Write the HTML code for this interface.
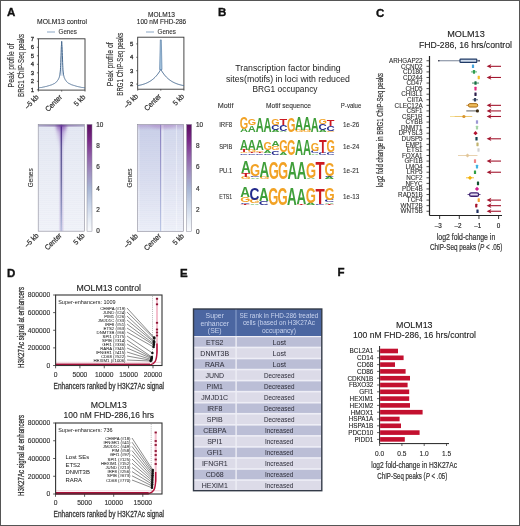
<!DOCTYPE html><html><head><meta charset="utf-8"><style>html,body{margin:0;padding:0;background:#fff;}svg{display:block;font-family:"Liberation Sans",sans-serif;will-change:transform;}</style></head><body>
<svg width="520" height="526" viewBox="0 0 520 526">
<defs>
<linearGradient id="cbar" x1="0" y1="0" x2="0" y2="1">
<stop offset="0" stop-color="#5a0d60"/><stop offset="0.15" stop-color="#7a2a88"/><stop offset="0.3" stop-color="#9060a8"/><stop offset="0.45" stop-color="#a090c0"/>
<stop offset="0.6" stop-color="#a8b6d4"/><stop offset="0.75" stop-color="#c8d4e8"/><stop offset="0.9" stop-color="#e8eef6"/><stop offset="1" stop-color="#fafbfd"/></linearGradient>
<linearGradient id="hm1bg" x1="0" y1="0" x2="0" y2="1">
<stop offset="0" stop-color="#e4e8f3"/><stop offset="0.5" stop-color="#ebeef6"/><stop offset="1" stop-color="#f1f3f9"/></linearGradient>
<linearGradient id="hm2bg" x1="0" y1="0" x2="0" y2="1">
<stop offset="0" stop-color="#c9cfe8"/><stop offset="0.5" stop-color="#d9ddef"/><stop offset="1" stop-color="#eceff8"/></linearGradient>
<linearGradient id="hm1c" x1="0" y1="0" x2="1" y2="0">
<stop offset="0" stop-color="#7a4fb0" stop-opacity="0"/><stop offset="0.5" stop-color="#6a3fa8" stop-opacity="1"/><stop offset="1" stop-color="#7a4fb0" stop-opacity="0"/></linearGradient>
<linearGradient id="hm1top" x1="0" y1="0" x2="0" y2="1">
<stop offset="0" stop-color="#8a4aa8" stop-opacity="0.9"/><stop offset="1" stop-color="#8a4aa8" stop-opacity="0"/></linearGradient>
<linearGradient id="hm1cl" x1="0" y1="0" x2="0" y2="1">
<stop offset="0" stop-color="#4e2088"/><stop offset="0.2" stop-color="#564e90"/><stop offset="0.5" stop-color="#68689c"/><stop offset="0.8" stop-color="#9096c2"/><stop offset="1" stop-color="#b8c2e0"/></linearGradient>
<linearGradient id="hm1cv" x1="0" y1="0" x2="0" y2="1">
<stop offset="0" stop-color="#fff" stop-opacity="1"/><stop offset="0.15" stop-color="#fff" stop-opacity="0.55"/><stop offset="1" stop-color="#fff" stop-opacity="0.25"/></linearGradient>
<linearGradient id="funnel" x1="0" y1="0" x2="0" y2="1">
<stop offset="0" stop-color="#7a3aa8" stop-opacity="0.85"/><stop offset="0.3" stop-color="#8a5ab8" stop-opacity="0.35"/><stop offset="1" stop-color="#9a80c8" stop-opacity="0"/></linearGradient>
<linearGradient id="toprow" x1="0" y1="0" x2="1" y2="0">
<stop offset="0" stop-color="#a8a4c4"/><stop offset="0.35" stop-color="#9a88b8"/><stop offset="0.5" stop-color="#6a3a98"/><stop offset="0.65" stop-color="#9a88b8"/><stop offset="1" stop-color="#a8a4c4"/></linearGradient>
<filter id="blur1" x="-50%" y="-50%" width="200%" height="200%"><feGaussianBlur stdDeviation="1.6"/></filter>
<clipPath id="hmclip1"><rect x="38.2" y="124.4" width="46.2" height="106.8"/></clipPath>
<clipPath id="hmclip2"><rect x="137.6" y="124.4" width="46" height="107.2"/></clipPath>
<linearGradient id="hm2cl" x1="0" y1="0" x2="0" y2="1">
<stop offset="0" stop-color="#8a80c0"/><stop offset="0.4" stop-color="#9c9ccc"/><stop offset="1" stop-color="#bcc8e6"/></linearGradient>
</defs>
<rect x="0.5" y="0.5" width="519" height="525" fill="none" stroke="#555" stroke-width="1"/>
<text x="7.00" y="16.30" font-size="11.5" fill="#111" stroke="#111" stroke-width="0.35" font-weight="bold">A</text>
<text x="218.00" y="16.20" font-size="11.5" fill="#111" stroke="#111" stroke-width="0.35" font-weight="bold">B</text>
<text x="376.00" y="16.60" font-size="11.5" fill="#111" stroke="#111" stroke-width="0.35" font-weight="bold">C</text>
<text x="7.00" y="276.60" font-size="11.5" fill="#111" stroke="#111" stroke-width="0.35" font-weight="bold">D</text>
<text x="180.00" y="276.80" font-size="11.5" fill="#111" stroke="#111" stroke-width="0.35" font-weight="bold">E</text>
<text x="337.50" y="276.30" font-size="11.5" fill="#111" stroke="#111" stroke-width="0.35" font-weight="bold">F</text>
<text x="62.00" y="24.10" font-size="6.9" fill="#222" stroke="#222" stroke-width="0.1" text-anchor="middle" textLength="50.00" lengthAdjust="spacingAndGlyphs">MOLM13 control</text>
<line x1="47" y1="32" x2="55" y2="32" stroke="#5a82ac" stroke-width="0.7"/>
<text x="58.50" y="34.20" font-size="6.3" fill="#333" stroke="#333" stroke-width="0.1" textLength="18.50" lengthAdjust="spacingAndGlyphs">Genes</text>
<rect x="38.4" y="38.8" width="46.6" height="51.3" fill="none" stroke="#333" stroke-width="0.9"/>
<line x1="36.9" y1="89.8" x2="38.4" y2="89.8" stroke="#333" stroke-width="0.7"/>
<text x="34.10" y="91.80" font-size="5.9" fill="#333" stroke="#333" stroke-width="0.3" text-anchor="end">1</text>
<line x1="36.9" y1="81.3" x2="38.4" y2="81.3" stroke="#333" stroke-width="0.7"/>
<text x="34.10" y="83.30" font-size="5.9" fill="#333" stroke="#333" stroke-width="0.3" text-anchor="end">2</text>
<line x1="36.9" y1="72.8" x2="38.4" y2="72.8" stroke="#333" stroke-width="0.7"/>
<text x="34.10" y="74.80" font-size="5.9" fill="#333" stroke="#333" stroke-width="0.3" text-anchor="end">3</text>
<line x1="36.9" y1="64.3" x2="38.4" y2="64.3" stroke="#333" stroke-width="0.7"/>
<text x="34.10" y="66.30" font-size="5.9" fill="#333" stroke="#333" stroke-width="0.3" text-anchor="end">4</text>
<line x1="36.9" y1="55.8" x2="38.4" y2="55.8" stroke="#333" stroke-width="0.7"/>
<text x="34.10" y="57.80" font-size="5.9" fill="#333" stroke="#333" stroke-width="0.3" text-anchor="end">5</text>
<line x1="36.9" y1="47.3" x2="38.4" y2="47.3" stroke="#333" stroke-width="0.7"/>
<text x="34.10" y="49.30" font-size="5.9" fill="#333" stroke="#333" stroke-width="0.3" text-anchor="end">6</text>
<line x1="36.9" y1="38.8" x2="38.4" y2="38.8" stroke="#333" stroke-width="0.7"/>
<text x="34.10" y="40.80" font-size="5.9" fill="#333" stroke="#333" stroke-width="0.3" text-anchor="end">7</text>
<line x1="38.4" y1="90.1" x2="38.4" y2="91.6" stroke="#333" stroke-width="0.7"/>
<line x1="61.7" y1="90.1" x2="61.7" y2="91.6" stroke="#333" stroke-width="0.7"/>
<line x1="85.0" y1="90.1" x2="85.0" y2="91.6" stroke="#333" stroke-width="0.7"/>
<path d="M59.60,75.76 L59.72,75.27 L59.84,74.77 L59.95,74.05 L60.07,73.06 L60.19,72.07 L60.30,71.08 L60.42,69.88 L60.53,67.57 L60.65,65.26 L60.77,62.37 L60.88,59.07 L61.00,55.77 L61.12,52.47 L61.23,49.17 L61.35,46.55 L61.47,44.82 L61.58,43.08 L61.70,41.35 L61.82,43.08 L61.93,44.82 L62.05,46.55 L62.17,49.17 L62.28,52.47 L62.40,55.77 L62.52,59.07 L62.63,62.37 L62.75,65.26 L62.86,67.57 L62.98,69.88 L63.10,71.08 L63.21,72.07 L63.33,73.06 L63.45,74.05 L63.56,74.77 L63.68,75.27 L63.80,75.76 Z" fill="#d6e1ee"/>
<path d="M38.40,87.84 L38.52,87.83 L38.63,87.81 L38.75,87.80 L38.87,87.78 L38.98,87.77 L39.10,87.75 L39.22,87.74 L39.33,87.72 L39.45,87.71 L39.56,87.69 L39.68,87.68 L39.80,87.66 L39.91,87.65 L40.03,87.63 L40.15,87.62 L40.26,87.60 L40.38,87.59 L40.50,87.57 L40.61,87.56 L40.73,87.54 L40.85,87.53 L40.96,87.51 L41.08,87.50 L41.20,87.48 L41.31,87.47 L41.43,87.45 L41.55,87.44 L41.66,87.42 L41.78,87.40 L41.89,87.38 L42.01,87.35 L42.13,87.33 L42.24,87.30 L42.36,87.28 L42.48,87.25 L42.59,87.23 L42.71,87.20 L42.83,87.18 L42.94,87.15 L43.06,87.12 L43.18,87.10 L43.29,87.07 L43.41,87.05 L43.53,87.02 L43.64,87.00 L43.76,86.97 L43.88,86.95 L43.99,86.92 L44.11,86.90 L44.23,86.87 L44.34,86.85 L44.46,86.82 L44.57,86.80 L44.69,86.77 L44.81,86.75 L44.92,86.72 L45.04,86.70 L45.16,86.67 L45.27,86.64 L45.39,86.62 L45.51,86.59 L45.62,86.57 L45.74,86.54 L45.86,86.52 L45.97,86.49 L46.09,86.47 L46.21,86.44 L46.32,86.42 L46.44,86.39 L46.55,86.35 L46.67,86.32 L46.79,86.28 L46.90,86.25 L47.02,86.21 L47.14,86.18 L47.25,86.14 L47.37,86.10 L47.49,86.07 L47.60,86.03 L47.72,86.00 L47.84,85.96 L47.95,85.93 L48.07,85.89 L48.19,85.86 L48.30,85.82 L48.42,85.78 L48.54,85.75 L48.65,85.71 L48.77,85.68 L48.88,85.64 L49.00,85.61 L49.12,85.57 L49.23,85.54 L49.35,85.50 L49.47,85.47 L49.58,85.43 L49.70,85.39 L49.82,85.36 L49.93,85.32 L50.05,85.29 L50.17,85.25 L50.28,85.22 L50.40,85.18 L50.52,85.15 L50.63,85.11 L50.75,85.07 L50.87,85.04 L50.98,85.00 L51.10,84.97 L51.21,84.93 L51.33,84.90 L51.45,84.86 L51.56,84.83 L51.68,84.79 L51.80,84.74 L51.91,84.68 L52.03,84.63 L52.15,84.57 L52.26,84.51 L52.38,84.46 L52.50,84.40 L52.61,84.35 L52.73,84.29 L52.85,84.23 L52.96,84.18 L53.08,84.12 L53.20,84.06 L53.31,84.01 L53.43,83.95 L53.55,83.90 L53.66,83.84 L53.78,83.78 L53.89,83.73 L54.01,83.67 L54.13,83.62 L54.24,83.56 L54.36,83.50 L54.48,83.45 L54.59,83.39 L54.71,83.33 L54.83,83.24 L54.94,83.14 L55.06,83.05 L55.18,82.96 L55.29,82.86 L55.41,82.77 L55.53,82.67 L55.64,82.58 L55.76,82.49 L55.88,82.39 L55.99,82.30 L56.11,82.20 L56.22,82.11 L56.34,82.01 L56.46,81.92 L56.57,81.83 L56.69,81.73 L56.81,81.57 L56.92,81.41 L57.04,81.24 L57.16,81.08 L57.27,80.91 L57.39,80.75 L57.51,80.58 L57.62,80.42 L57.74,80.25 L57.86,80.09 L57.97,79.92 L58.09,79.76 L58.20,79.59 L58.32,79.34 L58.44,79.09 L58.55,78.85 L58.67,78.60 L58.79,78.35 L58.90,78.10 L59.02,77.86 L59.14,77.61 L59.25,77.25 L59.37,76.75 L59.49,76.26 L59.60,75.76 L59.72,75.27 L59.84,74.77 L59.95,74.05 L60.07,73.06 L60.19,72.07 L60.30,71.08 L60.42,69.88 L60.53,67.57 L60.65,65.26 L60.77,62.37 L60.88,59.07 L61.00,55.77 L61.12,52.47 L61.23,49.17 L61.35,46.55 L61.47,44.82 L61.58,43.08 L61.70,41.35 L61.82,43.08 L61.93,44.82 L62.05,46.55 L62.17,49.17 L62.28,52.47 L62.40,55.77 L62.52,59.07 L62.63,62.37 L62.75,65.26 L62.86,67.57 L62.98,69.88 L63.10,71.08 L63.21,72.07 L63.33,73.06 L63.45,74.05 L63.56,74.77 L63.68,75.27 L63.80,75.76 L63.91,76.26 L64.03,76.75 L64.15,77.25 L64.26,77.61 L64.38,77.86 L64.50,78.10 L64.61,78.35 L64.73,78.60 L64.85,78.85 L64.96,79.09 L65.08,79.34 L65.19,79.59 L65.31,79.76 L65.43,79.92 L65.54,80.09 L65.66,80.25 L65.78,80.42 L65.89,80.58 L66.01,80.75 L66.13,80.91 L66.24,81.08 L66.36,81.24 L66.48,81.41 L66.59,81.57 L66.71,81.73 L66.83,81.83 L66.94,81.92 L67.06,82.01 L67.18,82.11 L67.29,82.20 L67.41,82.30 L67.53,82.39 L67.64,82.49 L67.76,82.58 L67.87,82.67 L67.99,82.77 L68.11,82.86 L68.22,82.96 L68.34,83.05 L68.46,83.14 L68.57,83.24 L68.69,83.33 L68.81,83.39 L68.92,83.45 L69.04,83.50 L69.16,83.56 L69.27,83.62 L69.39,83.67 L69.51,83.73 L69.62,83.78 L69.74,83.84 L69.85,83.90 L69.97,83.95 L70.09,84.01 L70.20,84.06 L70.32,84.12 L70.44,84.18 L70.55,84.23 L70.67,84.29 L70.79,84.35 L70.90,84.40 L71.02,84.46 L71.14,84.51 L71.25,84.57 L71.37,84.63 L71.49,84.68 L71.60,84.74 L71.72,84.79 L71.84,84.83 L71.95,84.86 L72.07,84.90 L72.19,84.93 L72.30,84.97 L72.42,85.00 L72.53,85.04 L72.65,85.07 L72.77,85.11 L72.88,85.15 L73.00,85.18 L73.12,85.22 L73.23,85.25 L73.35,85.29 L73.47,85.32 L73.58,85.36 L73.70,85.39 L73.82,85.43 L73.93,85.47 L74.05,85.50 L74.17,85.54 L74.28,85.57 L74.40,85.61 L74.52,85.64 L74.63,85.68 L74.75,85.71 L74.86,85.75 L74.98,85.78 L75.10,85.82 L75.21,85.86 L75.33,85.89 L75.45,85.93 L75.56,85.96 L75.68,86.00 L75.80,86.03 L75.91,86.07 L76.03,86.10 L76.15,86.14 L76.26,86.18 L76.38,86.21 L76.50,86.25 L76.61,86.28 L76.73,86.32 L76.84,86.35 L76.96,86.39 L77.08,86.42 L77.19,86.44 L77.31,86.47 L77.43,86.49 L77.54,86.52 L77.66,86.54 L77.78,86.57 L77.89,86.59 L78.01,86.62 L78.13,86.64 L78.24,86.67 L78.36,86.70 L78.48,86.72 L78.59,86.75 L78.71,86.77 L78.83,86.80 L78.94,86.82 L79.06,86.85 L79.17,86.87 L79.29,86.90 L79.41,86.92 L79.52,86.95 L79.64,86.97 L79.76,87.00 L79.87,87.02 L79.99,87.05 L80.11,87.07 L80.22,87.10 L80.34,87.12 L80.46,87.15 L80.57,87.18 L80.69,87.20 L80.81,87.23 L80.92,87.25 L81.04,87.28 L81.16,87.30 L81.27,87.33 L81.39,87.35 L81.50,87.38 L81.62,87.40 L81.74,87.42 L81.85,87.44 L81.97,87.45 L82.09,87.47 L82.20,87.48 L82.32,87.50 L82.44,87.51 L82.55,87.53 L82.67,87.54 L82.79,87.56 L82.90,87.57 L83.02,87.59 L83.14,87.60 L83.25,87.62 L83.37,87.63 L83.49,87.65 L83.60,87.66 L83.72,87.68 L83.84,87.69 L83.95,87.71 L84.07,87.72 L84.18,87.74 L84.30,87.75 L84.42,87.77 L84.53,87.78 L84.65,87.80 L84.77,87.81 L84.88,87.83 L85.00,87.84" fill="none" stroke="#45688e" stroke-width="1.0" stroke-linejoin="round"/>
<text x="14.10" y="65.45" font-size="9" fill="#333" stroke="#333" stroke-width="0.15" text-anchor="middle" textLength="44.00" lengthAdjust="spacingAndGlyphs" transform="rotate(-90 14.10 65.45)">Peak profile of</text>
<text x="24.30" y="65.45" font-size="9" fill="#333" stroke="#333" stroke-width="0.15" text-anchor="middle" textLength="63.00" lengthAdjust="spacingAndGlyphs" transform="rotate(-90 24.30 65.45)">BRG1 ChIP-Seq peaks</text>
<text x="39.30" y="97.70" font-size="7.4" fill="#333" stroke="#333" stroke-width="0.22" text-anchor="end" textLength="16.60" lengthAdjust="spacingAndGlyphs" transform="rotate(-45 39.30 97.70)">–5 kb</text>
<text x="62.60" y="97.70" font-size="7.4" fill="#333" stroke="#333" stroke-width="0.22" text-anchor="end" textLength="20.40" lengthAdjust="spacingAndGlyphs" transform="rotate(-45 62.60 97.70)">Center</text>
<text x="85.90" y="97.70" font-size="7.4" fill="#333" stroke="#333" stroke-width="0.22" text-anchor="end" textLength="12.85" lengthAdjust="spacingAndGlyphs" transform="rotate(-45 85.90 97.70)">5 kb</text>
<text x="161.50" y="16.50" font-size="6.9" fill="#222" stroke="#222" stroke-width="0.1" text-anchor="middle" textLength="27.00" lengthAdjust="spacingAndGlyphs">MOLM13</text>
<text x="161.50" y="24.10" font-size="6.9" fill="#222" stroke="#222" stroke-width="0.1" text-anchor="middle" textLength="49.30" lengthAdjust="spacingAndGlyphs">100 nM FHD-286</text>
<line x1="146" y1="32" x2="154" y2="32" stroke="#5a82ac" stroke-width="0.7"/>
<text x="157.50" y="34.20" font-size="6.3" fill="#333" stroke="#333" stroke-width="0.1" textLength="18.50" lengthAdjust="spacingAndGlyphs">Genes</text>
<rect x="137.7" y="37.2" width="46.20000000000002" height="52.0" fill="none" stroke="#333" stroke-width="0.9"/>
<line x1="136.2" y1="84.1" x2="137.7" y2="84.1" stroke="#333" stroke-width="0.7"/>
<text x="133.40" y="86.10" font-size="5.9" fill="#333" stroke="#333" stroke-width="0.3" text-anchor="end">2</text>
<line x1="136.2" y1="70.69999999999999" x2="137.7" y2="70.69999999999999" stroke="#333" stroke-width="0.7"/>
<text x="133.40" y="72.70" font-size="5.9" fill="#333" stroke="#333" stroke-width="0.3" text-anchor="end">3</text>
<line x1="136.2" y1="57.3" x2="137.7" y2="57.3" stroke="#333" stroke-width="0.7"/>
<text x="133.40" y="59.30" font-size="5.9" fill="#333" stroke="#333" stroke-width="0.3" text-anchor="end">4</text>
<line x1="136.2" y1="43.89999999999999" x2="137.7" y2="43.89999999999999" stroke="#333" stroke-width="0.7"/>
<text x="133.40" y="45.90" font-size="5.9" fill="#333" stroke="#333" stroke-width="0.3" text-anchor="end">5</text>
<line x1="137.7" y1="89.2" x2="137.7" y2="90.7" stroke="#333" stroke-width="0.7"/>
<line x1="160.8" y1="89.2" x2="160.8" y2="90.7" stroke="#333" stroke-width="0.7"/>
<line x1="183.9" y1="89.2" x2="183.9" y2="90.7" stroke="#333" stroke-width="0.7"/>
<path d="M137.70,85.64 L138.28,85.53 L138.85,85.42 L139.43,85.29 L140.01,85.17 L140.59,85.03 L141.16,84.89 L141.74,84.74 L142.32,84.58 L142.90,84.41 L143.47,84.23 L144.05,84.04 L144.63,83.83 L145.21,83.62 L145.78,83.39 L146.36,83.15 L146.94,82.90 L147.52,82.63 L148.09,82.34 L148.67,82.04 L149.25,81.72 L149.83,81.38 L150.41,81.02 L150.98,80.64 L151.56,80.24 L152.14,79.81 L152.72,79.36 L153.29,78.88 L153.87,78.38 L154.45,77.84 L155.03,77.27 L155.60,76.67 L156.18,76.03 L156.76,75.35 L157.34,74.64 L157.91,73.88 L158.49,73.08 L159.07,72.23 L159.64,71.33 L160.22,70.37 L160.80,69.36 L161.38,70.37 L161.95,71.33 L162.53,72.23 L163.11,73.08 L163.69,73.88 L164.26,74.64 L164.84,75.35 L165.42,76.03 L166.00,76.67 L166.57,77.27 L167.15,77.84 L167.73,78.38 L168.31,78.88 L168.88,79.36 L169.46,79.81 L170.04,80.24 L170.62,80.64 L171.19,81.02 L171.77,81.38 L172.35,81.72 L172.93,82.04 L173.50,82.34 L174.08,82.63 L174.66,82.90 L175.24,83.15 L175.81,83.39 L176.39,83.62 L176.97,83.83 L177.55,84.04 L178.12,84.23 L178.70,84.41 L179.28,84.58 L179.86,84.74 L180.44,84.89 L181.01,85.03 L181.59,85.17 L182.17,85.29 L182.75,85.42 L183.32,85.53 L183.90,85.64" fill="none" stroke="#45688e" stroke-width="1.0" stroke-linejoin="round"/>
<path d="M159.60,69.63 L160.30,39.88 L161.30,39.88 L162.00,69.63 Z" fill="#a8c6e0" stroke="#46709c" stroke-width="0.6"/>
<text x="113.10" y="64.20" font-size="9" fill="#333" stroke="#333" stroke-width="0.15" text-anchor="middle" textLength="44.00" lengthAdjust="spacingAndGlyphs" transform="rotate(-90 113.10 64.20)">Peak profile of</text>
<text x="123.30" y="64.20" font-size="9" fill="#333" stroke="#333" stroke-width="0.15" text-anchor="middle" textLength="63.00" lengthAdjust="spacingAndGlyphs" transform="rotate(-90 123.30 64.20)">BRG1 ChIP-Seq peaks</text>
<text x="138.60" y="96.80" font-size="7.4" fill="#333" stroke="#333" stroke-width="0.22" text-anchor="end" textLength="16.60" lengthAdjust="spacingAndGlyphs" transform="rotate(-45 138.60 96.80)">–5 kb</text>
<text x="161.70" y="96.80" font-size="7.4" fill="#333" stroke="#333" stroke-width="0.22" text-anchor="end" textLength="20.40" lengthAdjust="spacingAndGlyphs" transform="rotate(-45 161.70 96.80)">Center</text>
<text x="184.80" y="96.80" font-size="7.4" fill="#333" stroke="#333" stroke-width="0.22" text-anchor="end" textLength="12.85" lengthAdjust="spacingAndGlyphs" transform="rotate(-45 184.80 96.80)">5 kb</text>
<g clip-path="url(#hmclip1)">
<rect x="38.2" y="124.4" width="46.2" height="106.79999999999998" fill="url(#hm1bg)"/>
<line x1="38.2" y1="126.4" x2="84.4" y2="126.4" stroke="#c8cce6" stroke-width="0.5" opacity="0.10"/>
<line x1="38.2" y1="128.4" x2="84.4" y2="128.4" stroke="#c8cce6" stroke-width="0.5" opacity="0.13"/>
<line x1="38.2" y1="130.4" x2="84.4" y2="130.4" stroke="#c8cce6" stroke-width="0.5" opacity="0.16"/>
<line x1="38.2" y1="132.4" x2="84.4" y2="132.4" stroke="#c8cce6" stroke-width="0.5" opacity="0.12"/>
<line x1="38.2" y1="134.4" x2="84.4" y2="134.4" stroke="#c8cce6" stroke-width="0.5" opacity="0.15"/>
<line x1="38.2" y1="136.4" x2="84.4" y2="136.4" stroke="#c8cce6" stroke-width="0.5" opacity="0.10"/>
<line x1="38.2" y1="138.4" x2="84.4" y2="138.4" stroke="#c8cce6" stroke-width="0.5" opacity="0.13"/>
<line x1="38.2" y1="140.4" x2="84.4" y2="140.4" stroke="#c8cce6" stroke-width="0.5" opacity="0.16"/>
<line x1="38.2" y1="142.4" x2="84.4" y2="142.4" stroke="#c8cce6" stroke-width="0.5" opacity="0.12"/>
<line x1="38.2" y1="144.4" x2="84.4" y2="144.4" stroke="#c8cce6" stroke-width="0.5" opacity="0.15"/>
<line x1="38.2" y1="146.4" x2="84.4" y2="146.4" stroke="#c8cce6" stroke-width="0.5" opacity="0.10"/>
<line x1="38.2" y1="148.4" x2="84.4" y2="148.4" stroke="#c8cce6" stroke-width="0.5" opacity="0.13"/>
<line x1="38.2" y1="150.4" x2="84.4" y2="150.4" stroke="#c8cce6" stroke-width="0.5" opacity="0.16"/>
<line x1="38.2" y1="152.4" x2="84.4" y2="152.4" stroke="#c8cce6" stroke-width="0.5" opacity="0.12"/>
<line x1="38.2" y1="154.4" x2="84.4" y2="154.4" stroke="#c8cce6" stroke-width="0.5" opacity="0.15"/>
<line x1="38.2" y1="156.4" x2="84.4" y2="156.4" stroke="#c8cce6" stroke-width="0.5" opacity="0.10"/>
<line x1="38.2" y1="158.4" x2="84.4" y2="158.4" stroke="#c8cce6" stroke-width="0.5" opacity="0.13"/>
<line x1="38.2" y1="160.4" x2="84.4" y2="160.4" stroke="#c8cce6" stroke-width="0.5" opacity="0.16"/>
<line x1="38.2" y1="162.4" x2="84.4" y2="162.4" stroke="#c8cce6" stroke-width="0.5" opacity="0.12"/>
<line x1="38.2" y1="164.4" x2="84.4" y2="164.4" stroke="#c8cce6" stroke-width="0.5" opacity="0.15"/>
<line x1="38.2" y1="166.4" x2="84.4" y2="166.4" stroke="#c8cce6" stroke-width="0.5" opacity="0.10"/>
<line x1="38.2" y1="168.4" x2="84.4" y2="168.4" stroke="#c8cce6" stroke-width="0.5" opacity="0.13"/>
<line x1="38.2" y1="170.4" x2="84.4" y2="170.4" stroke="#c8cce6" stroke-width="0.5" opacity="0.16"/>
<line x1="38.2" y1="172.4" x2="84.4" y2="172.4" stroke="#c8cce6" stroke-width="0.5" opacity="0.12"/>
<line x1="38.2" y1="174.4" x2="84.4" y2="174.4" stroke="#c8cce6" stroke-width="0.5" opacity="0.15"/>
<line x1="38.2" y1="176.4" x2="84.4" y2="176.4" stroke="#c8cce6" stroke-width="0.5" opacity="0.10"/>
<line x1="38.2" y1="178.4" x2="84.4" y2="178.4" stroke="#c8cce6" stroke-width="0.5" opacity="0.13"/>
<line x1="38.2" y1="180.4" x2="84.4" y2="180.4" stroke="#c8cce6" stroke-width="0.5" opacity="0.16"/>
<line x1="38.2" y1="182.4" x2="84.4" y2="182.4" stroke="#c8cce6" stroke-width="0.5" opacity="0.12"/>
<line x1="38.2" y1="184.4" x2="84.4" y2="184.4" stroke="#c8cce6" stroke-width="0.5" opacity="0.15"/>
<line x1="38.2" y1="186.4" x2="84.4" y2="186.4" stroke="#c8cce6" stroke-width="0.5" opacity="0.10"/>
<line x1="38.2" y1="188.4" x2="84.4" y2="188.4" stroke="#c8cce6" stroke-width="0.5" opacity="0.13"/>
<line x1="38.2" y1="190.4" x2="84.4" y2="190.4" stroke="#c8cce6" stroke-width="0.5" opacity="0.16"/>
<line x1="38.2" y1="192.4" x2="84.4" y2="192.4" stroke="#c8cce6" stroke-width="0.5" opacity="0.12"/>
<line x1="38.2" y1="194.4" x2="84.4" y2="194.4" stroke="#c8cce6" stroke-width="0.5" opacity="0.15"/>
<line x1="38.2" y1="196.4" x2="84.4" y2="196.4" stroke="#c8cce6" stroke-width="0.5" opacity="0.10"/>
<line x1="38.2" y1="198.4" x2="84.4" y2="198.4" stroke="#c8cce6" stroke-width="0.5" opacity="0.13"/>
<line x1="38.2" y1="200.4" x2="84.4" y2="200.4" stroke="#c8cce6" stroke-width="0.5" opacity="0.16"/>
<line x1="38.2" y1="202.4" x2="84.4" y2="202.4" stroke="#c8cce6" stroke-width="0.5" opacity="0.12"/>
<line x1="38.2" y1="204.4" x2="84.4" y2="204.4" stroke="#c8cce6" stroke-width="0.5" opacity="0.15"/>
<line x1="38.2" y1="206.4" x2="84.4" y2="206.4" stroke="#c8cce6" stroke-width="0.5" opacity="0.10"/>
<line x1="38.2" y1="208.4" x2="84.4" y2="208.4" stroke="#c8cce6" stroke-width="0.5" opacity="0.13"/>
<line x1="38.2" y1="210.4" x2="84.4" y2="210.4" stroke="#c8cce6" stroke-width="0.5" opacity="0.16"/>
<line x1="38.2" y1="212.4" x2="84.4" y2="212.4" stroke="#c8cce6" stroke-width="0.5" opacity="0.12"/>
<line x1="38.2" y1="214.4" x2="84.4" y2="214.4" stroke="#c8cce6" stroke-width="0.5" opacity="0.15"/>
<line x1="38.2" y1="216.4" x2="84.4" y2="216.4" stroke="#c8cce6" stroke-width="0.5" opacity="0.10"/>
<line x1="38.2" y1="218.4" x2="84.4" y2="218.4" stroke="#c8cce6" stroke-width="0.5" opacity="0.13"/>
<line x1="38.2" y1="220.4" x2="84.4" y2="220.4" stroke="#c8cce6" stroke-width="0.5" opacity="0.16"/>
<line x1="38.2" y1="222.4" x2="84.4" y2="222.4" stroke="#c8cce6" stroke-width="0.5" opacity="0.12"/>
<line x1="38.2" y1="224.4" x2="84.4" y2="224.4" stroke="#c8cce6" stroke-width="0.5" opacity="0.15"/>
<line x1="38.2" y1="226.4" x2="84.4" y2="226.4" stroke="#c8cce6" stroke-width="0.5" opacity="0.10"/>
<line x1="38.2" y1="228.4" x2="84.4" y2="228.4" stroke="#c8cce6" stroke-width="0.5" opacity="0.13"/>
<line x1="38.2" y1="230.4" x2="84.4" y2="230.4" stroke="#c8cce6" stroke-width="0.5" opacity="0.16"/>
<path d="M55.800000000000004,124.4 L66.80000000000001,124.4 L62.300000000000004,152.4 L60.300000000000004,152.4 Z" fill="url(#funnel)" filter="url(#blur1)"/>
<rect x="58.300000000000004" y="124.4" width="6.0" height="106.79999999999998" fill="url(#hm1c)" opacity="0.3"/>
<rect x="60.650000000000006" y="124.4" width="1.3" height="106.79999999999998" fill="url(#hm1cl)"/>
<rect x="38.2" y="124.4" width="46.2" height="2.2" fill="url(#toprow)"/>
</g>
<rect x="38.2" y="124.4" width="46.2" height="106.79999999999998" fill="none" stroke="#8a8a9a" stroke-width="0.6"/>
<rect x="87" y="124.4" width="5" height="106.79999999999998" fill="url(#cbar)" stroke="#8a8a9a" stroke-width="0.5"/>
<text x="96.30" y="126.60" font-size="6.4" fill="#333" stroke="#333" stroke-width="0.2">10</text>
<text x="96.30" y="147.96" font-size="6.4" fill="#333" stroke="#333" stroke-width="0.2">8</text>
<text x="96.30" y="169.32" font-size="6.4" fill="#333" stroke="#333" stroke-width="0.2">6</text>
<text x="96.30" y="190.68" font-size="6.4" fill="#333" stroke="#333" stroke-width="0.2">4</text>
<text x="96.30" y="212.04" font-size="6.4" fill="#333" stroke="#333" stroke-width="0.2">2</text>
<text x="96.30" y="233.40" font-size="6.4" fill="#333" stroke="#333" stroke-width="0.2">0</text>
<text x="32.60" y="177.80" font-size="6.4" fill="#333" stroke="#333" stroke-width="0.1" text-anchor="middle" transform="rotate(-90 32.60 177.80)">Genes</text>
<text x="39.10" y="236.10" font-size="7.4" fill="#333" stroke="#333" stroke-width="0.22" text-anchor="end" textLength="16.60" lengthAdjust="spacingAndGlyphs" transform="rotate(-45 39.10 236.10)">–5 kb</text>
<text x="62.20" y="236.10" font-size="7.4" fill="#333" stroke="#333" stroke-width="0.22" text-anchor="end" textLength="20.40" lengthAdjust="spacingAndGlyphs" transform="rotate(-45 62.20 236.10)">Center</text>
<text x="85.30" y="236.10" font-size="7.4" fill="#333" stroke="#333" stroke-width="0.22" text-anchor="end" textLength="12.85" lengthAdjust="spacingAndGlyphs" transform="rotate(-45 85.30 236.10)">5 kb</text>
<g clip-path="url(#hmclip2)">
<rect x="137.6" y="124.4" width="46.0" height="107.19999999999999" fill="url(#hm2bg)"/>
<rect x="160.6" y="124.4" width="23.0" height="107.19999999999999" fill="#ffffff" opacity="0.18"/>
<rect x="137.6" y="124.4" width="2" height="107.19999999999999" fill="#ffffff" opacity="0.3"/>
<line x1="137.6" y1="126.4" x2="183.6" y2="126.4" stroke="#b8bedc" stroke-width="0.5" opacity="0.08"/>
<line x1="137.6" y1="128.4" x2="183.6" y2="128.4" stroke="#b8bedc" stroke-width="0.5" opacity="0.11"/>
<line x1="137.6" y1="130.4" x2="183.6" y2="130.4" stroke="#b8bedc" stroke-width="0.5" opacity="0.14"/>
<line x1="137.6" y1="132.4" x2="183.6" y2="132.4" stroke="#b8bedc" stroke-width="0.5" opacity="0.10"/>
<line x1="137.6" y1="134.4" x2="183.6" y2="134.4" stroke="#b8bedc" stroke-width="0.5" opacity="0.12"/>
<line x1="137.6" y1="136.4" x2="183.6" y2="136.4" stroke="#b8bedc" stroke-width="0.5" opacity="0.08"/>
<line x1="137.6" y1="138.4" x2="183.6" y2="138.4" stroke="#b8bedc" stroke-width="0.5" opacity="0.11"/>
<line x1="137.6" y1="140.4" x2="183.6" y2="140.4" stroke="#b8bedc" stroke-width="0.5" opacity="0.14"/>
<line x1="137.6" y1="142.4" x2="183.6" y2="142.4" stroke="#b8bedc" stroke-width="0.5" opacity="0.10"/>
<line x1="137.6" y1="144.4" x2="183.6" y2="144.4" stroke="#b8bedc" stroke-width="0.5" opacity="0.12"/>
<line x1="137.6" y1="146.4" x2="183.6" y2="146.4" stroke="#b8bedc" stroke-width="0.5" opacity="0.08"/>
<line x1="137.6" y1="148.4" x2="183.6" y2="148.4" stroke="#b8bedc" stroke-width="0.5" opacity="0.11"/>
<line x1="137.6" y1="150.4" x2="183.6" y2="150.4" stroke="#b8bedc" stroke-width="0.5" opacity="0.14"/>
<line x1="137.6" y1="152.4" x2="183.6" y2="152.4" stroke="#b8bedc" stroke-width="0.5" opacity="0.10"/>
<line x1="137.6" y1="154.4" x2="183.6" y2="154.4" stroke="#b8bedc" stroke-width="0.5" opacity="0.12"/>
<line x1="137.6" y1="156.4" x2="183.6" y2="156.4" stroke="#b8bedc" stroke-width="0.5" opacity="0.08"/>
<line x1="137.6" y1="158.4" x2="183.6" y2="158.4" stroke="#b8bedc" stroke-width="0.5" opacity="0.11"/>
<line x1="137.6" y1="160.4" x2="183.6" y2="160.4" stroke="#b8bedc" stroke-width="0.5" opacity="0.14"/>
<line x1="137.6" y1="162.4" x2="183.6" y2="162.4" stroke="#b8bedc" stroke-width="0.5" opacity="0.10"/>
<line x1="137.6" y1="164.4" x2="183.6" y2="164.4" stroke="#b8bedc" stroke-width="0.5" opacity="0.12"/>
<line x1="137.6" y1="166.4" x2="183.6" y2="166.4" stroke="#b8bedc" stroke-width="0.5" opacity="0.08"/>
<line x1="137.6" y1="168.4" x2="183.6" y2="168.4" stroke="#b8bedc" stroke-width="0.5" opacity="0.11"/>
<line x1="137.6" y1="170.4" x2="183.6" y2="170.4" stroke="#b8bedc" stroke-width="0.5" opacity="0.14"/>
<line x1="137.6" y1="172.4" x2="183.6" y2="172.4" stroke="#b8bedc" stroke-width="0.5" opacity="0.10"/>
<line x1="137.6" y1="174.4" x2="183.6" y2="174.4" stroke="#b8bedc" stroke-width="0.5" opacity="0.12"/>
<line x1="137.6" y1="176.4" x2="183.6" y2="176.4" stroke="#b8bedc" stroke-width="0.5" opacity="0.08"/>
<line x1="137.6" y1="178.4" x2="183.6" y2="178.4" stroke="#b8bedc" stroke-width="0.5" opacity="0.11"/>
<line x1="137.6" y1="180.4" x2="183.6" y2="180.4" stroke="#b8bedc" stroke-width="0.5" opacity="0.14"/>
<line x1="137.6" y1="182.4" x2="183.6" y2="182.4" stroke="#b8bedc" stroke-width="0.5" opacity="0.10"/>
<line x1="137.6" y1="184.4" x2="183.6" y2="184.4" stroke="#b8bedc" stroke-width="0.5" opacity="0.12"/>
<line x1="137.6" y1="186.4" x2="183.6" y2="186.4" stroke="#b8bedc" stroke-width="0.5" opacity="0.08"/>
<line x1="137.6" y1="188.4" x2="183.6" y2="188.4" stroke="#b8bedc" stroke-width="0.5" opacity="0.11"/>
<line x1="137.6" y1="190.4" x2="183.6" y2="190.4" stroke="#b8bedc" stroke-width="0.5" opacity="0.14"/>
<line x1="137.6" y1="192.4" x2="183.6" y2="192.4" stroke="#b8bedc" stroke-width="0.5" opacity="0.10"/>
<line x1="137.6" y1="194.4" x2="183.6" y2="194.4" stroke="#b8bedc" stroke-width="0.5" opacity="0.12"/>
<line x1="137.6" y1="196.4" x2="183.6" y2="196.4" stroke="#b8bedc" stroke-width="0.5" opacity="0.08"/>
<line x1="137.6" y1="198.4" x2="183.6" y2="198.4" stroke="#b8bedc" stroke-width="0.5" opacity="0.11"/>
<line x1="137.6" y1="200.4" x2="183.6" y2="200.4" stroke="#b8bedc" stroke-width="0.5" opacity="0.14"/>
<line x1="137.6" y1="202.4" x2="183.6" y2="202.4" stroke="#b8bedc" stroke-width="0.5" opacity="0.10"/>
<line x1="137.6" y1="204.4" x2="183.6" y2="204.4" stroke="#b8bedc" stroke-width="0.5" opacity="0.12"/>
<line x1="137.6" y1="206.4" x2="183.6" y2="206.4" stroke="#b8bedc" stroke-width="0.5" opacity="0.08"/>
<line x1="137.6" y1="208.4" x2="183.6" y2="208.4" stroke="#b8bedc" stroke-width="0.5" opacity="0.11"/>
<line x1="137.6" y1="210.4" x2="183.6" y2="210.4" stroke="#b8bedc" stroke-width="0.5" opacity="0.14"/>
<line x1="137.6" y1="212.4" x2="183.6" y2="212.4" stroke="#b8bedc" stroke-width="0.5" opacity="0.10"/>
<line x1="137.6" y1="214.4" x2="183.6" y2="214.4" stroke="#b8bedc" stroke-width="0.5" opacity="0.12"/>
<line x1="137.6" y1="216.4" x2="183.6" y2="216.4" stroke="#b8bedc" stroke-width="0.5" opacity="0.08"/>
<line x1="137.6" y1="218.4" x2="183.6" y2="218.4" stroke="#b8bedc" stroke-width="0.5" opacity="0.11"/>
<line x1="137.6" y1="220.4" x2="183.6" y2="220.4" stroke="#b8bedc" stroke-width="0.5" opacity="0.14"/>
<line x1="137.6" y1="222.4" x2="183.6" y2="222.4" stroke="#b8bedc" stroke-width="0.5" opacity="0.10"/>
<line x1="137.6" y1="224.4" x2="183.6" y2="224.4" stroke="#b8bedc" stroke-width="0.5" opacity="0.12"/>
<line x1="137.6" y1="226.4" x2="183.6" y2="226.4" stroke="#b8bedc" stroke-width="0.5" opacity="0.08"/>
<line x1="137.6" y1="228.4" x2="183.6" y2="228.4" stroke="#b8bedc" stroke-width="0.5" opacity="0.11"/>
<line x1="137.6" y1="230.4" x2="183.6" y2="230.4" stroke="#b8bedc" stroke-width="0.5" opacity="0.14"/>
<rect x="137.6" y="124.4" width="46.0" height="6" fill="url(#hm1top)" opacity="0.35"/>
<rect x="161.0" y="124.4" width="2.6" height="107.19999999999999" fill="#ffffff" opacity="0.35"/>
<rect x="160.0" y="124.4" width="1.2" height="107.19999999999999" fill="url(#hm2cl)"/>
<ellipse cx="162.6" cy="124.4" rx="12" ry="4" fill="#b088c8" opacity="0.35" filter="url(#blur1)"/>
<line x1="176.6" y1="124.4" x2="176.6" y2="231.6" stroke="#ffffff" stroke-width="0.7" opacity="0.6"/>
</g>
<rect x="137.6" y="124.4" width="46.0" height="107.19999999999999" fill="none" stroke="#8a8a9a" stroke-width="0.6"/>
<rect x="186.6" y="124.4" width="5" height="107.19999999999999" fill="url(#cbar)" stroke="#8a8a9a" stroke-width="0.5"/>
<text x="195.90" y="126.60" font-size="6.4" fill="#333" stroke="#333" stroke-width="0.2">10</text>
<text x="195.90" y="148.04" font-size="6.4" fill="#333" stroke="#333" stroke-width="0.2">8</text>
<text x="195.90" y="169.48" font-size="6.4" fill="#333" stroke="#333" stroke-width="0.2">6</text>
<text x="195.90" y="190.92" font-size="6.4" fill="#333" stroke="#333" stroke-width="0.2">4</text>
<text x="195.90" y="212.36" font-size="6.4" fill="#333" stroke="#333" stroke-width="0.2">2</text>
<text x="195.90" y="233.80" font-size="6.4" fill="#333" stroke="#333" stroke-width="0.2">0</text>
<text x="132.00" y="178.00" font-size="6.4" fill="#333" stroke="#333" stroke-width="0.1" text-anchor="middle" transform="rotate(-90 132.00 178.00)">Genes</text>
<text x="138.50" y="236.50" font-size="7.4" fill="#333" stroke="#333" stroke-width="0.22" text-anchor="end" textLength="16.60" lengthAdjust="spacingAndGlyphs" transform="rotate(-45 138.50 236.50)">–5 kb</text>
<text x="161.50" y="236.50" font-size="7.4" fill="#333" stroke="#333" stroke-width="0.22" text-anchor="end" textLength="20.40" lengthAdjust="spacingAndGlyphs" transform="rotate(-45 161.50 236.50)">Center</text>
<text x="184.50" y="236.50" font-size="7.4" fill="#333" stroke="#333" stroke-width="0.22" text-anchor="end" textLength="12.85" lengthAdjust="spacingAndGlyphs" transform="rotate(-45 184.50 236.50)">5 kb</text>
<text x="288.00" y="71.00" font-size="8.6" fill="#222" text-anchor="middle" textLength="105.50" lengthAdjust="spacingAndGlyphs">Transcription factor binding</text>
<text x="288.00" y="81.50" font-size="8.6" fill="#222" text-anchor="middle" textLength="124.00" lengthAdjust="spacingAndGlyphs">sites(motifs) in loci with reduced</text>
<text x="285.00" y="91.50" font-size="8.6" fill="#222" text-anchor="middle" textLength="65.00" lengthAdjust="spacingAndGlyphs">BRG1 occupancy</text>
<text x="217.80" y="108.20" font-size="6.3" fill="#333" stroke="#333" stroke-width="0.1" textLength="15.60" lengthAdjust="spacingAndGlyphs">Motif</text>
<text x="288.50" y="108.20" font-size="6.3" fill="#333" stroke="#333" stroke-width="0.1" text-anchor="middle" textLength="45.00" lengthAdjust="spacingAndGlyphs">Motif sequence</text>
<text x="351.10" y="108.20" font-size="6.3" fill="#333" stroke="#333" stroke-width="0.1" text-anchor="middle" textLength="20.50" lengthAdjust="spacingAndGlyphs">P-value</text>
<text x="219.20" y="127.00" font-size="6.5" fill="#333" stroke="#333" stroke-width="0.1" textLength="13.00" lengthAdjust="spacingAndGlyphs">IRF8</text>
<text x="351.20" y="127.00" font-size="6.5" fill="#333" stroke="#333" stroke-width="0.1" text-anchor="middle" textLength="16.30" lengthAdjust="spacingAndGlyphs">1e-26</text>
<text x="219.20" y="148.70" font-size="6.5" fill="#333" stroke="#333" stroke-width="0.1" textLength="13.00" lengthAdjust="spacingAndGlyphs">SPIB</text>
<text x="351.20" y="148.70" font-size="6.5" fill="#333" stroke="#333" stroke-width="0.1" text-anchor="middle" textLength="16.30" lengthAdjust="spacingAndGlyphs">1e-24</text>
<text x="219.20" y="173.00" font-size="6.5" fill="#333" stroke="#333" stroke-width="0.1" textLength="13.00" lengthAdjust="spacingAndGlyphs">PU.1</text>
<text x="351.20" y="173.00" font-size="6.5" fill="#333" stroke="#333" stroke-width="0.1" text-anchor="middle" textLength="16.30" lengthAdjust="spacingAndGlyphs">1e-21</text>
<text x="219.20" y="198.90" font-size="6.5" fill="#333" stroke="#333" stroke-width="0.1" textLength="13.00" lengthAdjust="spacingAndGlyphs">ETS1</text>
<text x="351.20" y="198.90" font-size="6.5" fill="#333" stroke="#333" stroke-width="0.1" text-anchor="middle" textLength="16.30" lengthAdjust="spacingAndGlyphs">1e-13</text>
<text transform="translate(239.96,132.00) scale(0.1119,0.0486)" font-size="100" font-weight="bold" fill="#3f9f3a">A</text>
<text transform="translate(239.87,128.60) scale(0.1086,0.1571)" font-size="100" font-weight="bold" fill="#f2a225">G</text>
<text transform="translate(247.84,132.00) scale(0.1119,0.0971)" font-size="100" font-weight="bold" fill="#3f9f3a">A</text>
<text transform="translate(247.74,125.20) scale(0.1086,0.0886)" font-size="100" font-weight="bold" fill="#f2a225">G</text>
<text transform="translate(255.71,132.00) scale(0.1119,0.2000)" font-size="100" font-weight="bold" fill="#3f9f3a">A</text>
<text transform="translate(263.59,132.00) scale(0.1119,0.2000)" font-size="100" font-weight="bold" fill="#3f9f3a">A</text>
<text transform="translate(271.46,132.00) scale(0.1119,0.0257)" font-size="100" font-weight="bold" fill="#3f9f3a">A</text>
<text transform="translate(271.35,130.20) scale(0.1137,0.0686)" font-size="100" font-weight="bold" fill="#232a8c">C</text>
<text transform="translate(271.37,125.40) scale(0.1086,0.0886)" font-size="100" font-weight="bold" fill="#f2a225">G</text>
<text transform="translate(279.34,132.00) scale(0.1119,0.0171)" font-size="100" font-weight="bold" fill="#3f9f3a">A</text>
<text transform="translate(279.22,130.80) scale(0.1137,0.0900)" font-size="100" font-weight="bold" fill="#232a8c">C</text>
<text transform="translate(279.55,124.50) scale(0.1254,0.0886)" font-size="100" font-weight="bold" fill="#cc1a22">T</text>
<text transform="translate(287.12,132.00) scale(0.1086,0.2114)" font-size="100" font-weight="bold" fill="#f2a225">G</text>
<text transform="translate(294.99,132.00) scale(0.1086,0.0257)" font-size="100" font-weight="bold" fill="#f2a225">G</text>
<text transform="translate(295.09,130.20) scale(0.1119,0.1786)" font-size="100" font-weight="bold" fill="#3f9f3a">A</text>
<text transform="translate(302.87,132.00) scale(0.1086,0.0257)" font-size="100" font-weight="bold" fill="#f2a225">G</text>
<text transform="translate(302.96,130.20) scale(0.1119,0.1786)" font-size="100" font-weight="bold" fill="#3f9f3a">A</text>
<text transform="translate(310.84,132.00) scale(0.1119,0.2071)" font-size="100" font-weight="bold" fill="#3f9f3a">A</text>
<text transform="translate(318.71,132.00) scale(0.1119,0.0257)" font-size="100" font-weight="bold" fill="#3f9f3a">A</text>
<text transform="translate(318.60,130.20) scale(0.1137,0.0829)" font-size="100" font-weight="bold" fill="#232a8c">C</text>
<text transform="translate(318.62,124.40) scale(0.1086,0.0757)" font-size="100" font-weight="bold" fill="#f2a225">G</text>
<text transform="translate(326.49,132.00) scale(0.1086,0.0214)" font-size="100" font-weight="bold" fill="#f2a225">G</text>
<text transform="translate(326.47,130.50) scale(0.1137,0.0686)" font-size="100" font-weight="bold" fill="#232a8c">C</text>
<text transform="translate(326.80,125.70) scale(0.1254,0.0957)" font-size="100" font-weight="bold" fill="#cc1a22">T</text>
<text transform="translate(239.85,154.50) scale(0.1137,0.0171)" font-size="100" font-weight="bold" fill="#232a8c">C</text>
<text transform="translate(239.87,153.30) scale(0.1086,0.0214)" font-size="100" font-weight="bold" fill="#f2a225">G</text>
<text transform="translate(240.17,151.80) scale(0.1254,0.0271)" font-size="100" font-weight="bold" fill="#cc1a22">T</text>
<text transform="translate(239.96,149.90) scale(0.1119,0.1429)" font-size="100" font-weight="bold" fill="#3f9f3a">A</text>
<text transform="translate(247.72,154.50) scale(0.1137,0.0171)" font-size="100" font-weight="bold" fill="#232a8c">C</text>
<text transform="translate(248.05,153.30) scale(0.1254,0.0214)" font-size="100" font-weight="bold" fill="#cc1a22">T</text>
<text transform="translate(247.74,151.80) scale(0.1086,0.0271)" font-size="100" font-weight="bold" fill="#f2a225">G</text>
<text transform="translate(247.84,149.90) scale(0.1119,0.1429)" font-size="100" font-weight="bold" fill="#3f9f3a">A</text>
<text transform="translate(255.60,154.50) scale(0.1137,0.0171)" font-size="100" font-weight="bold" fill="#232a8c">C</text>
<text transform="translate(255.92,153.30) scale(0.1254,0.0229)" font-size="100" font-weight="bold" fill="#cc1a22">T</text>
<text transform="translate(255.62,151.70) scale(0.1086,0.0214)" font-size="100" font-weight="bold" fill="#f2a225">G</text>
<text transform="translate(255.71,150.20) scale(0.1119,0.1429)" font-size="100" font-weight="bold" fill="#3f9f3a">A</text>
<text transform="translate(263.47,154.50) scale(0.1137,0.0171)" font-size="100" font-weight="bold" fill="#232a8c">C</text>
<text transform="translate(263.59,153.30) scale(0.1119,0.0414)" font-size="100" font-weight="bold" fill="#3f9f3a">A</text>
<text transform="translate(263.49,150.40) scale(0.1086,0.1029)" font-size="100" font-weight="bold" fill="#f2a225">G</text>
<text transform="translate(271.35,154.50) scale(0.1137,0.0614)" font-size="100" font-weight="bold" fill="#232a8c">C</text>
<text transform="translate(271.37,150.20) scale(0.1086,0.0557)" font-size="100" font-weight="bold" fill="#f2a225">G</text>
<text transform="translate(271.46,146.30) scale(0.1119,0.0686)" font-size="100" font-weight="bold" fill="#3f9f3a">A</text>
<text transform="translate(279.34,154.50) scale(0.1119,0.0429)" font-size="100" font-weight="bold" fill="#3f9f3a">A</text>
<text transform="translate(279.24,151.50) scale(0.1086,0.1571)" font-size="100" font-weight="bold" fill="#f2a225">G</text>
<text transform="translate(287.12,154.50) scale(0.1086,0.2200)" font-size="100" font-weight="bold" fill="#f2a225">G</text>
<text transform="translate(295.09,154.50) scale(0.1119,0.2143)" font-size="100" font-weight="bold" fill="#3f9f3a">A</text>
<text transform="translate(302.96,154.50) scale(0.1119,0.2143)" font-size="100" font-weight="bold" fill="#3f9f3a">A</text>
<text transform="translate(310.84,154.50) scale(0.1119,0.0229)" font-size="100" font-weight="bold" fill="#3f9f3a">A</text>
<text transform="translate(310.72,152.90) scale(0.1137,0.0343)" font-size="100" font-weight="bold" fill="#232a8c">C</text>
<text transform="translate(310.74,150.50) scale(0.1086,0.1171)" font-size="100" font-weight="bold" fill="#f2a225">G</text>
<text transform="translate(318.60,154.50) scale(0.1137,0.0286)" font-size="100" font-weight="bold" fill="#232a8c">C</text>
<text transform="translate(318.92,152.50) scale(0.1254,0.1786)" font-size="100" font-weight="bold" fill="#cc1a22">T</text>
<text transform="translate(326.47,154.50) scale(0.1137,0.0429)" font-size="100" font-weight="bold" fill="#232a8c">C</text>
<text transform="translate(326.49,151.50) scale(0.1086,0.1571)" font-size="100" font-weight="bold" fill="#f2a225">G</text>
<text transform="translate(240.78,179.00) scale(0.1299,0.0257)" font-size="100" font-weight="bold" fill="#f2a225">G</text>
<text transform="translate(241.15,177.20) scale(0.1500,0.0557)" font-size="100" font-weight="bold" fill="#cc1a22">T</text>
<text transform="translate(240.90,173.30) scale(0.1338,0.1643)" font-size="100" font-weight="bold" fill="#3f9f3a">A</text>
<text transform="translate(250.20,179.00) scale(0.1338,0.0229)" font-size="100" font-weight="bold" fill="#3f9f3a">A</text>
<text transform="translate(250.06,177.40) scale(0.1359,0.0200)" font-size="100" font-weight="bold" fill="#232a8c">C</text>
<text transform="translate(250.08,176.00) scale(0.1299,0.1686)" font-size="100" font-weight="bold" fill="#f2a225">G</text>
<text transform="translate(259.38,179.00) scale(0.1299,0.0257)" font-size="100" font-weight="bold" fill="#f2a225">G</text>
<text transform="translate(259.50,177.20) scale(0.1338,0.2200)" font-size="100" font-weight="bold" fill="#3f9f3a">A</text>
<text transform="translate(268.68,179.00) scale(0.1299,0.2471)" font-size="100" font-weight="bold" fill="#f2a225">G</text>
<text transform="translate(277.98,179.00) scale(0.1299,0.2471)" font-size="100" font-weight="bold" fill="#f2a225">G</text>
<text transform="translate(287.40,179.00) scale(0.1338,0.2471)" font-size="100" font-weight="bold" fill="#3f9f3a">A</text>
<text transform="translate(296.70,179.00) scale(0.1338,0.2471)" font-size="100" font-weight="bold" fill="#3f9f3a">A</text>
<text transform="translate(306.00,179.00) scale(0.1338,0.0086)" font-size="100" font-weight="bold" fill="#3f9f3a">A</text>
<text transform="translate(305.88,178.40) scale(0.1299,0.2271)" font-size="100" font-weight="bold" fill="#f2a225">G</text>
<text transform="translate(315.55,179.00) scale(0.1500,0.2414)" font-size="100" font-weight="bold" fill="#cc1a22">T</text>
<text transform="translate(324.60,179.00) scale(0.1338,0.0286)" font-size="100" font-weight="bold" fill="#3f9f3a">A</text>
<text transform="translate(324.46,177.00) scale(0.1359,0.0214)" font-size="100" font-weight="bold" fill="#232a8c">C</text>
<text transform="translate(324.48,175.50) scale(0.1299,0.1857)" font-size="100" font-weight="bold" fill="#f2a225">G</text>
<text transform="translate(240.55,205.00) scale(0.1510,0.0186)" font-size="100" font-weight="bold" fill="#cc1a22">T</text>
<text transform="translate(240.15,203.70) scale(0.1369,0.0214)" font-size="100" font-weight="bold" fill="#232a8c">C</text>
<text transform="translate(240.18,202.20) scale(0.1307,0.0686)" font-size="100" font-weight="bold" fill="#f2a225">G</text>
<text transform="translate(240.30,197.40) scale(0.1348,0.1371)" font-size="100" font-weight="bold" fill="#3f9f3a">A</text>
<text transform="translate(249.66,205.00) scale(0.1348,0.0229)" font-size="100" font-weight="bold" fill="#3f9f3a">A</text>
<text transform="translate(249.54,203.40) scale(0.1307,0.0457)" font-size="100" font-weight="bold" fill="#f2a225">G</text>
<text transform="translate(249.51,200.20) scale(0.1369,0.1657)" font-size="100" font-weight="bold" fill="#232a8c">C</text>
<text transform="translate(258.87,205.00) scale(0.1369,0.0557)" font-size="100" font-weight="bold" fill="#232a8c">C</text>
<text transform="translate(259.02,201.10) scale(0.1348,0.1843)" font-size="100" font-weight="bold" fill="#3f9f3a">A</text>
<text transform="translate(268.26,205.00) scale(0.1307,0.2471)" font-size="100" font-weight="bold" fill="#f2a225">G</text>
<text transform="translate(277.62,205.00) scale(0.1307,0.2471)" font-size="100" font-weight="bold" fill="#f2a225">G</text>
<text transform="translate(287.10,205.00) scale(0.1348,0.2471)" font-size="100" font-weight="bold" fill="#3f9f3a">A</text>
<text transform="translate(296.71,205.00) scale(0.1510,0.0214)" font-size="100" font-weight="bold" fill="#cc1a22">T</text>
<text transform="translate(296.46,203.50) scale(0.1348,0.2257)" font-size="100" font-weight="bold" fill="#3f9f3a">A</text>
<text transform="translate(305.82,205.00) scale(0.1348,0.0271)" font-size="100" font-weight="bold" fill="#3f9f3a">A</text>
<text transform="translate(305.70,203.10) scale(0.1307,0.2200)" font-size="100" font-weight="bold" fill="#f2a225">G</text>
<text transform="translate(315.03,205.00) scale(0.1369,0.0200)" font-size="100" font-weight="bold" fill="#232a8c">C</text>
<text transform="translate(315.43,203.60) scale(0.1510,0.2271)" font-size="100" font-weight="bold" fill="#cc1a22">T</text>
<text transform="translate(324.79,205.00) scale(0.1510,0.0186)" font-size="100" font-weight="bold" fill="#cc1a22">T</text>
<text transform="translate(324.54,203.70) scale(0.1348,0.0214)" font-size="100" font-weight="bold" fill="#3f9f3a">A</text>
<text transform="translate(324.39,202.20) scale(0.1369,0.0286)" font-size="100" font-weight="bold" fill="#232a8c">C</text>
<text transform="translate(324.42,200.20) scale(0.1307,0.1586)" font-size="100" font-weight="bold" fill="#f2a225">G</text>
<text x="466.00" y="36.90" font-size="9.2" fill="#222" stroke="#222" stroke-width="0.12" text-anchor="middle" textLength="37.50" lengthAdjust="spacingAndGlyphs">MOLM13</text>
<text x="465.50" y="47.60" font-size="9.2" fill="#222" stroke="#222" stroke-width="0.12" text-anchor="middle" textLength="93.00" lengthAdjust="spacingAndGlyphs">FHD-286, 16 hrs/control</text>
<line x1="429.5" y1="56" x2="429.5" y2="215.5" stroke="#222" stroke-width="1.2"/>
<line x1="429.5" y1="215.5" x2="502" y2="215.5" stroke="#222" stroke-width="1.2"/>
<line x1="426.5" y1="60.75" x2="429.5" y2="60.75" stroke="#222" stroke-width="0.8"/>
<text x="422.60" y="62.95" font-size="6.3" fill="#2a2a2a" stroke="#2a2a2a" stroke-width="0.08" text-anchor="end">ARHGAP22</text>
<line x1="426.5" y1="66.32" x2="429.5" y2="66.32" stroke="#222" stroke-width="0.8"/>
<text x="422.60" y="68.52" font-size="6.3" fill="#2a2a2a" stroke="#2a2a2a" stroke-width="0.08" text-anchor="end">CCND2</text>
<line x1="426.5" y1="71.90" x2="429.5" y2="71.90" stroke="#222" stroke-width="0.8"/>
<text x="422.60" y="74.10" font-size="6.3" fill="#2a2a2a" stroke="#2a2a2a" stroke-width="0.08" text-anchor="end">CD180</text>
<line x1="426.5" y1="77.47" x2="429.5" y2="77.47" stroke="#222" stroke-width="0.8"/>
<text x="422.60" y="79.67" font-size="6.3" fill="#2a2a2a" stroke="#2a2a2a" stroke-width="0.08" text-anchor="end">CD244</text>
<line x1="426.5" y1="83.05" x2="429.5" y2="83.05" stroke="#222" stroke-width="0.8"/>
<text x="422.60" y="85.25" font-size="6.3" fill="#2a2a2a" stroke="#2a2a2a" stroke-width="0.08" text-anchor="end">CD47</text>
<line x1="426.5" y1="88.62" x2="429.5" y2="88.62" stroke="#222" stroke-width="0.8"/>
<text x="422.60" y="90.82" font-size="6.3" fill="#2a2a2a" stroke="#2a2a2a" stroke-width="0.08" text-anchor="end">CHD5</text>
<line x1="426.5" y1="94.19" x2="429.5" y2="94.19" stroke="#222" stroke-width="0.8"/>
<text x="422.60" y="96.39" font-size="6.3" fill="#2a2a2a" stroke="#2a2a2a" stroke-width="0.08" text-anchor="end">CHI3L1</text>
<line x1="426.5" y1="99.77" x2="429.5" y2="99.77" stroke="#222" stroke-width="0.8"/>
<text x="422.60" y="101.97" font-size="6.3" fill="#2a2a2a" stroke="#2a2a2a" stroke-width="0.08" text-anchor="end">CIITA</text>
<line x1="426.5" y1="105.34" x2="429.5" y2="105.34" stroke="#222" stroke-width="0.8"/>
<text x="422.60" y="107.54" font-size="6.3" fill="#2a2a2a" stroke="#2a2a2a" stroke-width="0.08" text-anchor="end">CLEC12A</text>
<line x1="426.5" y1="110.92" x2="429.5" y2="110.92" stroke="#222" stroke-width="0.8"/>
<text x="422.60" y="113.12" font-size="6.3" fill="#2a2a2a" stroke="#2a2a2a" stroke-width="0.08" text-anchor="end">CSF1</text>
<line x1="426.5" y1="116.49" x2="429.5" y2="116.49" stroke="#222" stroke-width="0.8"/>
<text x="422.60" y="118.69" font-size="6.3" fill="#2a2a2a" stroke="#2a2a2a" stroke-width="0.08" text-anchor="end">CSF1R</text>
<line x1="426.5" y1="122.06" x2="429.5" y2="122.06" stroke="#222" stroke-width="0.8"/>
<text x="422.60" y="124.26" font-size="6.3" fill="#2a2a2a" stroke="#2a2a2a" stroke-width="0.08" text-anchor="end">CYBB</text>
<line x1="426.5" y1="127.64" x2="429.5" y2="127.64" stroke="#222" stroke-width="0.8"/>
<text x="422.60" y="129.84" font-size="6.3" fill="#2a2a2a" stroke="#2a2a2a" stroke-width="0.08" text-anchor="end">DNMT1</text>
<line x1="426.5" y1="133.21" x2="429.5" y2="133.21" stroke="#222" stroke-width="0.8"/>
<text x="422.60" y="135.41" font-size="6.3" fill="#2a2a2a" stroke="#2a2a2a" stroke-width="0.08" text-anchor="end">DPYSL3</text>
<line x1="426.5" y1="138.79" x2="429.5" y2="138.79" stroke="#222" stroke-width="0.8"/>
<text x="422.60" y="140.99" font-size="6.3" fill="#2a2a2a" stroke="#2a2a2a" stroke-width="0.08" text-anchor="end">DUSP5</text>
<line x1="426.5" y1="144.36" x2="429.5" y2="144.36" stroke="#222" stroke-width="0.8"/>
<text x="422.60" y="146.56" font-size="6.3" fill="#2a2a2a" stroke="#2a2a2a" stroke-width="0.08" text-anchor="end">EMP1</text>
<line x1="426.5" y1="149.93" x2="429.5" y2="149.93" stroke="#222" stroke-width="0.8"/>
<text x="422.60" y="152.13" font-size="6.3" fill="#2a2a2a" stroke="#2a2a2a" stroke-width="0.08" text-anchor="end">ETS1</text>
<line x1="426.5" y1="155.51" x2="429.5" y2="155.51" stroke="#222" stroke-width="0.8"/>
<text x="422.60" y="157.71" font-size="6.3" fill="#2a2a2a" stroke="#2a2a2a" stroke-width="0.08" text-anchor="end">FOXA1</text>
<line x1="426.5" y1="161.08" x2="429.5" y2="161.08" stroke="#222" stroke-width="0.8"/>
<text x="422.60" y="163.28" font-size="6.3" fill="#2a2a2a" stroke="#2a2a2a" stroke-width="0.08" text-anchor="end">GFI1B</text>
<line x1="426.5" y1="166.66" x2="429.5" y2="166.66" stroke="#222" stroke-width="0.8"/>
<text x="422.60" y="168.86" font-size="6.3" fill="#2a2a2a" stroke="#2a2a2a" stroke-width="0.08" text-anchor="end">LMO4</text>
<line x1="426.5" y1="172.23" x2="429.5" y2="172.23" stroke="#222" stroke-width="0.8"/>
<text x="422.60" y="174.43" font-size="6.3" fill="#2a2a2a" stroke="#2a2a2a" stroke-width="0.08" text-anchor="end">LRP5</text>
<line x1="426.5" y1="177.80" x2="429.5" y2="177.80" stroke="#222" stroke-width="0.8"/>
<text x="422.60" y="180.00" font-size="6.3" fill="#2a2a2a" stroke="#2a2a2a" stroke-width="0.08" text-anchor="end">NCF2</text>
<line x1="426.5" y1="183.38" x2="429.5" y2="183.38" stroke="#222" stroke-width="0.8"/>
<text x="422.60" y="185.58" font-size="6.3" fill="#2a2a2a" stroke="#2a2a2a" stroke-width="0.08" text-anchor="end">NFYC</text>
<line x1="426.5" y1="188.95" x2="429.5" y2="188.95" stroke="#222" stroke-width="0.8"/>
<text x="422.60" y="191.15" font-size="6.3" fill="#2a2a2a" stroke="#2a2a2a" stroke-width="0.08" text-anchor="end">PDE4B</text>
<line x1="426.5" y1="194.53" x2="429.5" y2="194.53" stroke="#222" stroke-width="0.8"/>
<text x="422.60" y="196.73" font-size="6.3" fill="#2a2a2a" stroke="#2a2a2a" stroke-width="0.08" text-anchor="end">RAD51B</text>
<line x1="426.5" y1="200.10" x2="429.5" y2="200.10" stroke="#222" stroke-width="0.8"/>
<text x="422.60" y="202.30" font-size="6.3" fill="#2a2a2a" stroke="#2a2a2a" stroke-width="0.08" text-anchor="end">TCF4</text>
<line x1="426.5" y1="205.67" x2="429.5" y2="205.67" stroke="#222" stroke-width="0.8"/>
<text x="422.60" y="207.87" font-size="6.3" fill="#2a2a2a" stroke="#2a2a2a" stroke-width="0.08" text-anchor="end">WNT2B</text>
<line x1="426.5" y1="211.25" x2="429.5" y2="211.25" stroke="#222" stroke-width="0.8"/>
<text x="422.60" y="213.45" font-size="6.3" fill="#2a2a2a" stroke="#2a2a2a" stroke-width="0.08" text-anchor="end">WNT5B</text>
<line x1="439.65" y1="215.5" x2="439.65" y2="219" stroke="#222" stroke-width="0.9"/>
<text x="438.35" y="227.80" font-size="6.3" fill="#222" stroke="#222" stroke-width="0.15" text-anchor="middle">–3</text>
<line x1="459.30" y1="215.5" x2="459.30" y2="219" stroke="#222" stroke-width="0.9"/>
<text x="458.00" y="227.80" font-size="6.3" fill="#222" stroke="#222" stroke-width="0.15" text-anchor="middle">–2</text>
<line x1="478.95" y1="215.5" x2="478.95" y2="219" stroke="#222" stroke-width="0.9"/>
<text x="477.65" y="227.80" font-size="6.3" fill="#222" stroke="#222" stroke-width="0.15" text-anchor="middle">–1</text>
<line x1="498.60" y1="215.5" x2="498.60" y2="219" stroke="#222" stroke-width="0.9"/>
<text x="498.60" y="227.80" font-size="6.3" fill="#222" stroke="#222" stroke-width="0.15" text-anchor="middle">0</text>
<text x="466.00" y="240.20" font-size="9.2" fill="#333" stroke="#333" stroke-width="0.22" text-anchor="middle" textLength="58.50" lengthAdjust="spacingAndGlyphs">log2 fold-change in</text>
<text x="466.2" y="249.5" font-size="9.2" fill="#333" stroke="#333" stroke-width="0.22" text-anchor="middle" textLength="72.5" lengthAdjust="spacingAndGlyphs">ChIP-Seq peaks (<tspan font-style="italic">P</tspan> &lt; .05)</text>
<text x="382.80" y="130.00" font-size="8.8" fill="#333" stroke="#333" stroke-width="0.2" text-anchor="middle" textLength="114.00" lengthAdjust="spacingAndGlyphs" transform="rotate(-90 382.80 130.00)">log2 fold change in BRG1 ChIP-Seq peaks</text>
<rect x="471.90" y="64.52" width="2.2" height="3.6" rx="0.4" fill="#44a3dc"/>
<line x1="471" y1="71.90" x2="477" y2="71.90" stroke="#2f9e4f" stroke-width="0.8"/>
<rect x="472.90" y="70.10" width="2.2" height="3.6" rx="0.4" fill="#2f9e4f"/>
<rect x="477.65" y="75.67" width="2.2" height="3.6" rx="0.4" fill="#f2c12a"/>
<line x1="472" y1="83.05" x2="479" y2="83.05" stroke="#166f43" stroke-width="0.8"/>
<rect x="474.40" y="81.25" width="2.2" height="3.6" rx="0.4" fill="#166f43"/>
<rect x="474.40" y="86.82" width="2.2" height="3.6" rx="0.4" fill="#e0287f"/>
<rect x="474.40" y="92.39" width="2.2" height="3.6" rx="0.4" fill="#2b1d4a"/>
<line x1="472.5" y1="99.77" x2="478" y2="99.77" stroke="#34425e" stroke-width="0.8"/>
<rect x="473.90" y="97.97" width="2.2" height="3.6" rx="0.4" fill="#34425e"/>
<line x1="466.3" y1="110.92" x2="477" y2="110.92" stroke="#333333" stroke-width="0.8"/>
<circle cx="477.40" cy="110.92" r="1.6" fill="#3a2a14"/>
<line x1="450" y1="116.49" x2="455" y2="116.49" stroke="#f4dc90" stroke-width="0.9"/>
<line x1="454.8" y1="116.49" x2="472.2" y2="116.49" stroke="#e8b84a" stroke-width="0.8"/>
<circle cx="463.90" cy="116.49" r="1.6" fill="#d8942a"/>
<rect x="475.90" y="120.26" width="2.2" height="3.6" rx="0.4" fill="#9b97d3"/>
<rect x="475.90" y="125.84" width="2.2" height="3.6" rx="0.4" fill="#a5d3a5"/>
<path d="M473.40,133.21 L475.50,131.11 L477.60,133.21 L475.50,135.31 Z" fill="#b3122f"/>
<rect x="475.40" y="136.99" width="2.2" height="3.6" rx="0.4" fill="#12414f"/>
<rect x="476.40" y="142.56" width="2.2" height="3.6" rx="0.4" fill="#c2b36e"/>
<rect x="477.40" y="148.13" width="2.2" height="3.6" rx="0.4" fill="#d2d2d2"/>
<line x1="458" y1="155.51" x2="477.5" y2="155.51" stroke="#e2c79a" stroke-width="0.8"/>
<path d="M465.40,155.51 L467.50,153.41 L469.60,155.51 L467.50,157.61 Z" fill="#e2c79a"/>
<rect x="473.90" y="159.28" width="2.2" height="3.6" rx="0.4" fill="#f08484"/>
<rect x="475.90" y="164.86" width="2.2" height="3.6" rx="0.4" fill="#3eb2e2"/>
<rect x="473.90" y="170.43" width="2.2" height="3.6" rx="0.4" fill="#2f9f45"/>
<line x1="466" y1="177.80" x2="474" y2="177.80" stroke="#f2b108" stroke-width="0.8"/>
<path d="M467.90,177.80 L470.00,175.70 L472.10,177.80 L470.00,179.90 Z" fill="#f2b108"/>
<rect x="476.90" y="181.58" width="2.2" height="3.6" rx="0.4" fill="#10502f"/>
<path d="M474.90,188.95 L477.00,186.85 L479.10,188.95 L477.00,191.05 Z" fill="#d3208f"/>
<rect x="477.65" y="198.30" width="2.2" height="3.6" rx="0.4" fill="#f2a232"/>
<rect x="475.15" y="203.87" width="2.2" height="3.6" rx="0.4" fill="#a3122a"/>
<rect x="476.40" y="209.45" width="2.2" height="3.6" rx="0.4" fill="#1f2f5f"/>
<line x1="438.5" y1="60.75" x2="479.5" y2="60.75" stroke="#55657d" stroke-width="0.8"/>
<circle cx="438.8" cy="60.75" r="0.8" fill="#334"/>
<rect x="478.3" y="59.95" width="1.6" height="1.6" fill="#556"/>
<rect x="460" y="59.05" width="16.8" height="3.4" rx="0.6" fill="#d0dcec" stroke="#1f3a66" stroke-width="1.2"/>
<line x1="466.3" y1="105.34" x2="478" y2="105.34" stroke="#c07a18" stroke-width="0.8"/>
<rect x="468.4" y="103.64" width="9.3" height="3.4" rx="1.5" fill="#eebc5c" stroke="#a86a10" stroke-width="1"/>
<line x1="467.5" y1="194.53" x2="480.5" y2="194.53" stroke="#3b1f6e" stroke-width="0.8"/>
<rect x="469.6" y="192.83" width="9" height="3.4" rx="1.6" fill="#e4dcf0" stroke="#3b1f6e" stroke-width="1.3"/>
<line x1="489" y1="66.32" x2="501" y2="66.32" stroke="#a3172f" stroke-width="1.1"/>
<path d="M486.6,66.32 L491.4,64.02 L490.2,66.32 L491.4,68.62 Z" fill="#a3172f"/>
<line x1="489" y1="77.47" x2="501" y2="77.47" stroke="#a3172f" stroke-width="1.1"/>
<path d="M486.6,77.47 L491.4,75.17 L490.2,77.47 L491.4,79.77 Z" fill="#a3172f"/>
<line x1="489" y1="105.34" x2="501" y2="105.34" stroke="#a3172f" stroke-width="1.1"/>
<path d="M486.6,105.34 L491.4,103.04 L490.2,105.34 L491.4,107.64 Z" fill="#a3172f"/>
<line x1="489" y1="110.92" x2="501" y2="110.92" stroke="#a3172f" stroke-width="1.1"/>
<path d="M486.6,110.92 L491.4,108.62 L490.2,110.92 L491.4,113.22 Z" fill="#a3172f"/>
<line x1="489" y1="116.49" x2="501" y2="116.49" stroke="#a3172f" stroke-width="1.1"/>
<path d="M486.6,116.49 L491.4,114.19 L490.2,116.49 L491.4,118.79 Z" fill="#a3172f"/>
<line x1="489" y1="138.79" x2="501" y2="138.79" stroke="#a3172f" stroke-width="1.1"/>
<path d="M486.6,138.79 L491.4,136.49 L490.2,138.79 L491.4,141.09 Z" fill="#a3172f"/>
<line x1="489" y1="161.08" x2="501" y2="161.08" stroke="#a3172f" stroke-width="1.1"/>
<path d="M486.6,161.08 L491.4,158.78 L490.2,161.08 L491.4,163.38 Z" fill="#a3172f"/>
<line x1="489" y1="172.23" x2="501" y2="172.23" stroke="#a3172f" stroke-width="1.1"/>
<path d="M486.6,172.23 L491.4,169.93 L490.2,172.23 L491.4,174.53 Z" fill="#a3172f"/>
<line x1="489" y1="200.10" x2="501" y2="200.10" stroke="#a3172f" stroke-width="1.1"/>
<path d="M486.6,200.10 L491.4,197.80 L490.2,200.10 L491.4,202.40 Z" fill="#a3172f"/>
<line x1="489" y1="205.67" x2="501" y2="205.67" stroke="#a3172f" stroke-width="1.1"/>
<path d="M486.6,205.67 L491.4,203.37 L490.2,205.67 L491.4,207.97 Z" fill="#a3172f"/>
<line x1="489" y1="211.25" x2="501" y2="211.25" stroke="#a3172f" stroke-width="1.1"/>
<path d="M486.6,211.25 L491.4,208.95 L490.2,211.25 L491.4,213.55 Z" fill="#a3172f"/>
<text x="108.80" y="290.60" font-size="9.3" fill="#222" stroke="#222" stroke-width="0.12" text-anchor="middle" textLength="64.50" lengthAdjust="spacingAndGlyphs">MOLM13 control</text>
<line x1="56.6" y1="362.3" x2="161" y2="362.3" stroke="#c85070" stroke-width="0.6" stroke-dasharray="0.8,1.2"/>
<line x1="152.5" y1="296" x2="152.5" y2="364.5" stroke="#8a8a8a" stroke-width="0.7" stroke-dasharray="0.8,1.1"/>
<rect x="156" y="297.5" width="2" height="56.0" fill="#f2b8c8" opacity="0.9"/>
<rect x="155.9" y="297.90000000000003" width="2.2" height="1.8" fill="#8c1434"/>
<rect x="155.9" y="303.40000000000003" width="2.2" height="1.8" fill="#8c1434"/>
<rect x="155.9" y="321.90000000000003" width="2.2" height="1.8" fill="#8c1434"/>
<rect x="155.9" y="328.6" width="2.2" height="1.8" fill="#8c1434"/>
<rect x="155.9" y="331.6" width="2.2" height="1.8" fill="#8c1434"/>
<rect x="155.9" y="334.6" width="2.2" height="1.8" fill="#8c1434"/>
<path d="M55.6,364.9 L150,364.9 C154.5,364.3 156.7,361.5 157,351.5 L157,343.5" fill="none" stroke="#b3123a" stroke-width="1.5"/>
<line x1="55.6" y1="364.7" x2="150" y2="364.7" stroke="#a8103a" stroke-width="2.4"/>
<rect x="55.6" y="295" width="106.4" height="70.5" fill="none" stroke="#333" stroke-width="1.1"/>
<line x1="53.1" y1="295.00" x2="55.6" y2="295.00" stroke="#333" stroke-width="0.8"/>
<text x="50.20" y="297.40" font-size="6.7" fill="#333" stroke="#333" stroke-width="0.14" text-anchor="end">800000</text>
<line x1="53.1" y1="312.62" x2="55.6" y2="312.62" stroke="#333" stroke-width="0.8"/>
<text x="50.20" y="315.02" font-size="6.7" fill="#333" stroke="#333" stroke-width="0.14" text-anchor="end">600000</text>
<line x1="53.1" y1="330.25" x2="55.6" y2="330.25" stroke="#333" stroke-width="0.8"/>
<text x="50.20" y="332.65" font-size="6.7" fill="#333" stroke="#333" stroke-width="0.14" text-anchor="end">400000</text>
<line x1="53.1" y1="347.88" x2="55.6" y2="347.88" stroke="#333" stroke-width="0.8"/>
<text x="50.20" y="350.27" font-size="6.7" fill="#333" stroke="#333" stroke-width="0.14" text-anchor="end">200000</text>
<line x1="53.1" y1="365.50" x2="55.6" y2="365.50" stroke="#333" stroke-width="0.8"/>
<text x="50.20" y="367.90" font-size="6.7" fill="#333" stroke="#333" stroke-width="0.14" text-anchor="end">0</text>
<line x1="55.60" y1="365.5" x2="55.60" y2="368.3" stroke="#333" stroke-width="0.8"/>
<text x="55.60" y="377.00" font-size="6.7" fill="#333" stroke="#333" stroke-width="0.14" text-anchor="middle">0</text>
<line x1="79.90" y1="365.5" x2="79.90" y2="368.3" stroke="#333" stroke-width="0.8"/>
<text x="79.90" y="377.00" font-size="6.7" fill="#333" stroke="#333" stroke-width="0.14" text-anchor="middle">5000</text>
<line x1="104.25" y1="365.5" x2="104.25" y2="368.3" stroke="#333" stroke-width="0.8"/>
<text x="104.25" y="377.00" font-size="6.7" fill="#333" stroke="#333" stroke-width="0.14" text-anchor="middle">10000</text>
<line x1="128.60" y1="365.5" x2="128.60" y2="368.3" stroke="#333" stroke-width="0.8"/>
<text x="128.60" y="377.00" font-size="6.7" fill="#333" stroke="#333" stroke-width="0.14" text-anchor="middle">15000</text>
<line x1="153.00" y1="365.5" x2="153.00" y2="368.3" stroke="#333" stroke-width="0.8"/>
<text x="153.00" y="377.00" font-size="6.7" fill="#333" stroke="#333" stroke-width="0.14" text-anchor="middle">20000</text>
<text x="108.80" y="388.80" font-size="8.7" fill="#333" stroke="#333" stroke-width="0.28" text-anchor="middle" textLength="110.50" lengthAdjust="spacingAndGlyphs">Enhancers ranked by H3K27Ac signal</text>
<text x="24.50" y="327.40" font-size="8.8" fill="#333" stroke="#333" stroke-width="0.28" text-anchor="middle" textLength="81.00" lengthAdjust="spacingAndGlyphs" transform="rotate(-90 24.50 327.40)">H3K27Ac signal at enhancers</text>
<text x="58.20" y="303.50" font-size="5.5" fill="#222">Super-enhancers: 1009</text>
<text x="125.50" y="309.50" font-size="4.3" fill="#2a2a2a" stroke="#2a2a2a" stroke-width="0.04" text-anchor="end">CEBPA (#19)</text>
<line x1="127.00" y1="308.00" x2="154.20" y2="337.60" stroke="#2a2a2a" stroke-width="0.55"/>
<text x="125.50" y="313.50" font-size="4.3" fill="#2a2a2a" stroke="#2a2a2a" stroke-width="0.04" text-anchor="end">JUND (#24)</text>
<line x1="127.00" y1="312.00" x2="154.20" y2="338.60" stroke="#2a2a2a" stroke-width="0.55"/>
<text x="125.50" y="317.50" font-size="4.3" fill="#2a2a2a" stroke="#2a2a2a" stroke-width="0.04" text-anchor="end">PIM1 (#26)</text>
<line x1="127.00" y1="316.00" x2="154.00" y2="341.20" stroke="#2a2a2a" stroke-width="0.55"/>
<text x="125.50" y="321.50" font-size="4.3" fill="#2a2a2a" stroke="#2a2a2a" stroke-width="0.04" text-anchor="end">JMJD1C (#33)</text>
<line x1="127.00" y1="320.00" x2="154.00" y2="342.20" stroke="#2a2a2a" stroke-width="0.55"/>
<text x="125.50" y="325.50" font-size="4.3" fill="#2a2a2a" stroke="#2a2a2a" stroke-width="0.04" text-anchor="end">IRF8 (#51)</text>
<line x1="127.00" y1="324.00" x2="154.00" y2="344.00" stroke="#2a2a2a" stroke-width="0.55"/>
<text x="125.50" y="329.50" font-size="4.3" fill="#2a2a2a" stroke="#2a2a2a" stroke-width="0.04" text-anchor="end">ETS2 (#63)</text>
<line x1="127.00" y1="328.00" x2="153.80" y2="345.00" stroke="#2a2a2a" stroke-width="0.55"/>
<text x="125.50" y="333.50" font-size="4.3" fill="#2a2a2a" stroke="#2a2a2a" stroke-width="0.04" text-anchor="end">DNMT3B (#66)</text>
<line x1="127.00" y1="332.00" x2="153.60" y2="347.00" stroke="#2a2a2a" stroke-width="0.55"/>
<text x="125.50" y="337.50" font-size="4.3" fill="#2a2a2a" stroke="#2a2a2a" stroke-width="0.04" text-anchor="end">SPI1 (#175)</text>
<line x1="127.00" y1="336.00" x2="152.40" y2="353.00" stroke="#2a2a2a" stroke-width="0.55"/>
<text x="125.50" y="341.50" font-size="4.3" fill="#2a2a2a" stroke="#2a2a2a" stroke-width="0.04" text-anchor="end">SPIB (#314)</text>
<line x1="127.00" y1="340.00" x2="151.80" y2="357.00" stroke="#2a2a2a" stroke-width="0.55"/>
<text x="125.50" y="345.50" font-size="4.3" fill="#2a2a2a" stroke="#2a2a2a" stroke-width="0.04" text-anchor="end">GFI1 (#336)</text>
<line x1="127.00" y1="344.00" x2="151.80" y2="357.80" stroke="#2a2a2a" stroke-width="0.55"/>
<text x="125.50" y="349.50" font-size="4.3" fill="#2a2a2a" stroke="#2a2a2a" stroke-width="0.04" text-anchor="end">RARA (#345)</text>
<line x1="127.00" y1="348.00" x2="151.60" y2="358.50" stroke="#2a2a2a" stroke-width="0.55"/>
<text x="125.50" y="353.50" font-size="4.3" fill="#2a2a2a" stroke="#2a2a2a" stroke-width="0.04" text-anchor="end">IFNGR1 (#415)</text>
<line x1="127.00" y1="352.00" x2="151.30" y2="359.50" stroke="#2a2a2a" stroke-width="0.55"/>
<text x="125.50" y="357.50" font-size="4.3" fill="#2a2a2a" stroke="#2a2a2a" stroke-width="0.04" text-anchor="end">CD68 (#522)</text>
<line x1="127.00" y1="356.00" x2="151.00" y2="360.30" stroke="#2a2a2a" stroke-width="0.55"/>
<text x="125.50" y="361.50" font-size="4.3" fill="#2a2a2a" stroke="#2a2a2a" stroke-width="0.04" text-anchor="end">HEXIM1 (#1006)</text>
<line x1="127.00" y1="360.00" x2="150.60" y2="361.00" stroke="#2a2a2a" stroke-width="0.55"/>
<circle cx="154.20" cy="337.60" r="1.25" fill="#151515"/>
<circle cx="154.20" cy="338.60" r="1.25" fill="#151515"/>
<circle cx="154.00" cy="341.20" r="1.25" fill="#151515"/>
<circle cx="154.00" cy="342.20" r="1.25" fill="#151515"/>
<circle cx="154.00" cy="344.00" r="1.25" fill="#151515"/>
<circle cx="153.80" cy="345.00" r="1.25" fill="#151515"/>
<circle cx="153.60" cy="347.00" r="1.25" fill="#151515"/>
<circle cx="152.40" cy="353.00" r="1.25" fill="#151515"/>
<circle cx="151.80" cy="357.00" r="1.25" fill="#151515"/>
<circle cx="151.80" cy="357.80" r="1.25" fill="#151515"/>
<circle cx="151.60" cy="358.50" r="1.25" fill="#151515"/>
<circle cx="151.30" cy="359.50" r="1.25" fill="#151515"/>
<circle cx="151.00" cy="360.30" r="1.25" fill="#151515"/>
<circle cx="150.60" cy="361.00" r="1.25" fill="#151515"/>
<text x="108.80" y="407.90" font-size="9.3" fill="#222" stroke="#222" stroke-width="0.12" text-anchor="middle" textLength="36.00" lengthAdjust="spacingAndGlyphs">MOLM13</text>
<text x="108.80" y="417.90" font-size="9.3" fill="#222" stroke="#222" stroke-width="0.12" text-anchor="middle" textLength="90.40" lengthAdjust="spacingAndGlyphs">100 nM FHD-286,16 hrs</text>
<line x1="56.6" y1="490.8" x2="161" y2="490.8" stroke="#c85070" stroke-width="0.6" stroke-dasharray="0.8,1.2"/>
<line x1="151.2" y1="424" x2="151.2" y2="493" stroke="#8a8a8a" stroke-width="0.7" stroke-dasharray="0.8,1.1"/>
<rect x="154.7" y="431.5" width="2" height="50.5" fill="#f2b8c8" opacity="0.9"/>
<rect x="154.6" y="431.6" width="2.2" height="1.8" fill="#8c1434"/>
<rect x="154.6" y="440.1" width="2.2" height="1.8" fill="#8c1434"/>
<rect x="154.6" y="444.1" width="2.2" height="1.8" fill="#8c1434"/>
<rect x="154.6" y="450.1" width="2.2" height="1.8" fill="#8c1434"/>
<rect x="154.6" y="454.1" width="2.2" height="1.8" fill="#8c1434"/>
<rect x="154.6" y="458.6" width="2.2" height="1.8" fill="#8c1434"/>
<rect x="154.6" y="463.1" width="2.2" height="1.8" fill="#8c1434"/>
<path d="M55.6,493.4 L148.7,493.4 C153.2,492.8 155.39999999999998,490 155.7,480 L155.7,472" fill="none" stroke="#b3123a" stroke-width="1.5"/>
<line x1="55.6" y1="493.2" x2="148.7" y2="493.2" stroke="#a8103a" stroke-width="2.4"/>
<rect x="55.6" y="423" width="106.4" height="71" fill="none" stroke="#333" stroke-width="1.1"/>
<line x1="53.1" y1="423.00" x2="55.6" y2="423.00" stroke="#333" stroke-width="0.8"/>
<text x="50.20" y="425.40" font-size="6.7" fill="#333" stroke="#333" stroke-width="0.14" text-anchor="end">800000</text>
<line x1="53.1" y1="440.75" x2="55.6" y2="440.75" stroke="#333" stroke-width="0.8"/>
<text x="50.20" y="443.15" font-size="6.7" fill="#333" stroke="#333" stroke-width="0.14" text-anchor="end">600000</text>
<line x1="53.1" y1="458.50" x2="55.6" y2="458.50" stroke="#333" stroke-width="0.8"/>
<text x="50.20" y="460.90" font-size="6.7" fill="#333" stroke="#333" stroke-width="0.14" text-anchor="end">400000</text>
<line x1="53.1" y1="476.25" x2="55.6" y2="476.25" stroke="#333" stroke-width="0.8"/>
<text x="50.20" y="478.65" font-size="6.7" fill="#333" stroke="#333" stroke-width="0.14" text-anchor="end">200000</text>
<line x1="53.1" y1="494.00" x2="55.6" y2="494.00" stroke="#333" stroke-width="0.8"/>
<text x="50.20" y="496.40" font-size="6.7" fill="#333" stroke="#333" stroke-width="0.14" text-anchor="end">0</text>
<line x1="55.50" y1="494" x2="55.50" y2="496.8" stroke="#333" stroke-width="0.8"/>
<text x="55.50" y="504.80" font-size="6.7" fill="#333" stroke="#333" stroke-width="0.14" text-anchor="middle">0</text>
<line x1="84.60" y1="494" x2="84.60" y2="496.8" stroke="#333" stroke-width="0.8"/>
<text x="84.60" y="504.80" font-size="6.7" fill="#333" stroke="#333" stroke-width="0.14" text-anchor="middle">5000</text>
<line x1="113.70" y1="494" x2="113.70" y2="496.8" stroke="#333" stroke-width="0.8"/>
<text x="113.70" y="504.80" font-size="6.7" fill="#333" stroke="#333" stroke-width="0.14" text-anchor="middle">10000</text>
<line x1="142.80" y1="494" x2="142.80" y2="496.8" stroke="#333" stroke-width="0.8"/>
<text x="142.80" y="504.80" font-size="6.7" fill="#333" stroke="#333" stroke-width="0.14" text-anchor="middle">15000</text>
<text x="108.80" y="516.90" font-size="8.7" fill="#333" stroke="#333" stroke-width="0.28" text-anchor="middle" textLength="110.50" lengthAdjust="spacingAndGlyphs">Enhancers ranked by H3K27Ac signal</text>
<text x="24.50" y="455.40" font-size="8.8" fill="#333" stroke="#333" stroke-width="0.28" text-anchor="middle" textLength="81.00" lengthAdjust="spacingAndGlyphs" transform="rotate(-90 24.50 455.40)">H3K27Ac signal at enhancers</text>
<text x="58.20" y="431.50" font-size="5.5" fill="#222">Super-enhancers: 736</text>
<text x="130.50" y="439.50" font-size="4.3" fill="#2a2a2a" stroke="#2a2a2a" stroke-width="0.04" text-anchor="end">CEBPA (#18)</text>
<line x1="132.00" y1="438.00" x2="152.80" y2="470.00" stroke="#2a2a2a" stroke-width="0.55"/>
<text x="130.50" y="443.70" font-size="4.3" fill="#2a2a2a" stroke="#2a2a2a" stroke-width="0.04" text-anchor="end">IFNGR1 (#41)</text>
<line x1="132.00" y1="442.20" x2="152.72" y2="471.78" stroke="#2a2a2a" stroke-width="0.55"/>
<text x="130.50" y="447.90" font-size="4.3" fill="#2a2a2a" stroke="#2a2a2a" stroke-width="0.04" text-anchor="end">JMJD1C (#49)</text>
<line x1="132.00" y1="446.40" x2="152.64" y2="473.56" stroke="#2a2a2a" stroke-width="0.55"/>
<text x="130.50" y="452.10" font-size="4.3" fill="#2a2a2a" stroke="#2a2a2a" stroke-width="0.04" text-anchor="end">PIM (#58)</text>
<line x1="132.00" y1="450.60" x2="152.56" y2="475.34" stroke="#2a2a2a" stroke-width="0.55"/>
<text x="130.50" y="456.30" font-size="4.3" fill="#2a2a2a" stroke="#2a2a2a" stroke-width="0.04" text-anchor="end">GFI1 (#97)</text>
<line x1="132.00" y1="454.80" x2="152.48" y2="477.12" stroke="#2a2a2a" stroke-width="0.55"/>
<text x="130.50" y="460.50" font-size="4.3" fill="#2a2a2a" stroke="#2a2a2a" stroke-width="0.04" text-anchor="end">SPI1 (#125)</text>
<line x1="132.00" y1="459.00" x2="152.40" y2="478.90" stroke="#2a2a2a" stroke-width="0.55"/>
<text x="130.50" y="464.70" font-size="4.3" fill="#2a2a2a" stroke="#2a2a2a" stroke-width="0.04" text-anchor="end">HEXIM1 (#152)</text>
<line x1="132.00" y1="463.20" x2="152.32" y2="480.68" stroke="#2a2a2a" stroke-width="0.55"/>
<text x="130.50" y="468.90" font-size="4.3" fill="#2a2a2a" stroke="#2a2a2a" stroke-width="0.04" text-anchor="end">JUND (#213)</text>
<line x1="132.00" y1="467.40" x2="152.24" y2="482.46" stroke="#2a2a2a" stroke-width="0.55"/>
<text x="130.50" y="473.10" font-size="4.3" fill="#2a2a2a" stroke="#2a2a2a" stroke-width="0.04" text-anchor="end">IRF8 (#256)</text>
<line x1="132.00" y1="471.60" x2="152.16" y2="484.24" stroke="#2a2a2a" stroke-width="0.55"/>
<text x="130.50" y="477.30" font-size="4.3" fill="#2a2a2a" stroke="#2a2a2a" stroke-width="0.04" text-anchor="end">SPIB (#673)</text>
<line x1="132.00" y1="475.80" x2="152.08" y2="486.02" stroke="#2a2a2a" stroke-width="0.55"/>
<text x="130.50" y="481.50" font-size="4.3" fill="#2a2a2a" stroke="#2a2a2a" stroke-width="0.04" text-anchor="end">CD68 (#770)</text>
<line x1="132.00" y1="480.00" x2="152.00" y2="487.80" stroke="#2a2a2a" stroke-width="0.55"/>
<circle cx="152.80" cy="470.00" r="1.25" fill="#151515"/>
<circle cx="152.72" cy="471.78" r="1.25" fill="#151515"/>
<circle cx="152.64" cy="473.56" r="1.25" fill="#151515"/>
<circle cx="152.56" cy="475.34" r="1.25" fill="#151515"/>
<circle cx="152.48" cy="477.12" r="1.25" fill="#151515"/>
<circle cx="152.40" cy="478.90" r="1.25" fill="#151515"/>
<circle cx="152.32" cy="480.68" r="1.25" fill="#151515"/>
<circle cx="152.24" cy="482.46" r="1.25" fill="#151515"/>
<circle cx="152.16" cy="484.24" r="1.25" fill="#151515"/>
<circle cx="152.08" cy="486.02" r="1.25" fill="#151515"/>
<circle cx="152.00" cy="487.80" r="1.25" fill="#151515"/>
<text x="65.60" y="459.00" font-size="5.9" fill="#222" stroke="#222" stroke-width="0.02">Lost SEs</text>
<text x="65.60" y="466.60" font-size="5.9" fill="#222" stroke="#222" stroke-width="0.02">ETS2</text>
<text x="65.60" y="474.20" font-size="5.9" fill="#222" stroke="#222" stroke-width="0.02">DNMT3B</text>
<text x="65.60" y="481.80" font-size="5.9" fill="#222" stroke="#222" stroke-width="0.02">RARA</text>
<rect x="193.5" y="309" width="128.3" height="181.7" fill="#eeeef6"/>
<rect x="193.5" y="309" width="128.3" height="27" fill="#4b66a1"/>
<rect x="193.5" y="337.20" width="41.90" height="9.45" fill="#bbbed6"/>
<rect x="236.80" y="337.20" width="84.20" height="9.45" fill="#bbbed6"/>
<text x="214.75" y="344.52" font-size="7" fill="#30303c" stroke="#30303c" stroke-width="0.03" text-anchor="middle">ETS2</text>
<text x="279.20" y="344.52" font-size="7" fill="#30303c" stroke="#30303c" stroke-width="0.03" text-anchor="middle" textLength="13.50" lengthAdjust="spacingAndGlyphs">Lost</text>
<rect x="193.5" y="348.25" width="41.90" height="9.45" fill="#dcdbe8"/>
<rect x="236.80" y="348.25" width="84.20" height="9.45" fill="#dcdbe8"/>
<text x="214.75" y="355.57" font-size="7" fill="#30303c" stroke="#30303c" stroke-width="0.03" text-anchor="middle">DNMT3B</text>
<text x="279.20" y="355.57" font-size="7" fill="#30303c" stroke="#30303c" stroke-width="0.03" text-anchor="middle" textLength="13.50" lengthAdjust="spacingAndGlyphs">Lost</text>
<rect x="193.5" y="359.30" width="41.90" height="9.45" fill="#bbbed6"/>
<rect x="236.80" y="359.30" width="84.20" height="9.45" fill="#bbbed6"/>
<text x="214.75" y="366.62" font-size="7" fill="#30303c" stroke="#30303c" stroke-width="0.03" text-anchor="middle">RARA</text>
<text x="279.20" y="366.62" font-size="7" fill="#30303c" stroke="#30303c" stroke-width="0.03" text-anchor="middle" textLength="13.50" lengthAdjust="spacingAndGlyphs">Lost</text>
<rect x="193.5" y="370.35" width="41.90" height="9.45" fill="#dcdbe8"/>
<rect x="236.80" y="370.35" width="84.20" height="9.45" fill="#dcdbe8"/>
<text x="214.75" y="377.67" font-size="7" fill="#30303c" stroke="#30303c" stroke-width="0.03" text-anchor="middle">JUND</text>
<text x="279.20" y="377.67" font-size="7" fill="#30303c" stroke="#30303c" stroke-width="0.03" text-anchor="middle" textLength="30.40" lengthAdjust="spacingAndGlyphs">Decreased</text>
<rect x="193.5" y="381.40" width="41.90" height="9.45" fill="#bbbed6"/>
<rect x="236.80" y="381.40" width="84.20" height="9.45" fill="#bbbed6"/>
<text x="214.75" y="388.72" font-size="7" fill="#30303c" stroke="#30303c" stroke-width="0.03" text-anchor="middle">PIM1</text>
<text x="279.20" y="388.72" font-size="7" fill="#30303c" stroke="#30303c" stroke-width="0.03" text-anchor="middle" textLength="30.40" lengthAdjust="spacingAndGlyphs">Decreased</text>
<rect x="193.5" y="392.45" width="41.90" height="9.45" fill="#dcdbe8"/>
<rect x="236.80" y="392.45" width="84.20" height="9.45" fill="#dcdbe8"/>
<text x="214.75" y="399.77" font-size="7" fill="#30303c" stroke="#30303c" stroke-width="0.03" text-anchor="middle">JMJD1C</text>
<text x="279.20" y="399.77" font-size="7" fill="#30303c" stroke="#30303c" stroke-width="0.03" text-anchor="middle" textLength="30.40" lengthAdjust="spacingAndGlyphs">Decreased</text>
<rect x="193.5" y="403.50" width="41.90" height="9.45" fill="#bbbed6"/>
<rect x="236.80" y="403.50" width="84.20" height="9.45" fill="#bbbed6"/>
<text x="214.75" y="410.82" font-size="7" fill="#30303c" stroke="#30303c" stroke-width="0.03" text-anchor="middle">IRF8</text>
<text x="279.20" y="410.82" font-size="7" fill="#30303c" stroke="#30303c" stroke-width="0.03" text-anchor="middle" textLength="30.40" lengthAdjust="spacingAndGlyphs">Decreased</text>
<rect x="193.5" y="414.55" width="41.90" height="9.45" fill="#dcdbe8"/>
<rect x="236.80" y="414.55" width="84.20" height="9.45" fill="#dcdbe8"/>
<text x="214.75" y="421.88" font-size="7" fill="#30303c" stroke="#30303c" stroke-width="0.03" text-anchor="middle">SPIB</text>
<text x="279.20" y="421.88" font-size="7" fill="#30303c" stroke="#30303c" stroke-width="0.03" text-anchor="middle" textLength="30.40" lengthAdjust="spacingAndGlyphs">Decreased</text>
<rect x="193.5" y="425.60" width="41.90" height="9.45" fill="#bbbed6"/>
<rect x="236.80" y="425.60" width="84.20" height="9.45" fill="#bbbed6"/>
<text x="214.75" y="432.92" font-size="7" fill="#30303c" stroke="#30303c" stroke-width="0.03" text-anchor="middle">CEBPA</text>
<text x="279.20" y="432.92" font-size="7" fill="#30303c" stroke="#30303c" stroke-width="0.03" text-anchor="middle" textLength="28.50" lengthAdjust="spacingAndGlyphs">Increased</text>
<rect x="193.5" y="436.65" width="41.90" height="9.45" fill="#dcdbe8"/>
<rect x="236.80" y="436.65" width="84.20" height="9.45" fill="#dcdbe8"/>
<text x="214.75" y="443.97" font-size="7" fill="#30303c" stroke="#30303c" stroke-width="0.03" text-anchor="middle">SPI1</text>
<text x="279.20" y="443.97" font-size="7" fill="#30303c" stroke="#30303c" stroke-width="0.03" text-anchor="middle" textLength="28.50" lengthAdjust="spacingAndGlyphs">Increased</text>
<rect x="193.5" y="447.70" width="41.90" height="9.45" fill="#bbbed6"/>
<rect x="236.80" y="447.70" width="84.20" height="9.45" fill="#bbbed6"/>
<text x="214.75" y="455.02" font-size="7" fill="#30303c" stroke="#30303c" stroke-width="0.03" text-anchor="middle">GFI1</text>
<text x="279.20" y="455.02" font-size="7" fill="#30303c" stroke="#30303c" stroke-width="0.03" text-anchor="middle" textLength="28.50" lengthAdjust="spacingAndGlyphs">Increased</text>
<rect x="193.5" y="458.75" width="41.90" height="9.45" fill="#dcdbe8"/>
<rect x="236.80" y="458.75" width="84.20" height="9.45" fill="#dcdbe8"/>
<text x="214.75" y="466.07" font-size="7" fill="#30303c" stroke="#30303c" stroke-width="0.03" text-anchor="middle">IFNGR1</text>
<text x="279.20" y="466.07" font-size="7" fill="#30303c" stroke="#30303c" stroke-width="0.03" text-anchor="middle" textLength="28.50" lengthAdjust="spacingAndGlyphs">Increased</text>
<rect x="193.5" y="469.80" width="41.90" height="9.45" fill="#bbbed6"/>
<rect x="236.80" y="469.80" width="84.20" height="9.45" fill="#bbbed6"/>
<text x="214.75" y="477.12" font-size="7" fill="#30303c" stroke="#30303c" stroke-width="0.03" text-anchor="middle">CD68</text>
<text x="279.20" y="477.12" font-size="7" fill="#30303c" stroke="#30303c" stroke-width="0.03" text-anchor="middle" textLength="28.50" lengthAdjust="spacingAndGlyphs">Increased</text>
<rect x="193.5" y="480.85" width="41.90" height="9.45" fill="#dcdbe8"/>
<rect x="236.80" y="480.85" width="84.20" height="9.45" fill="#dcdbe8"/>
<text x="214.75" y="488.17" font-size="7" fill="#30303c" stroke="#30303c" stroke-width="0.03" text-anchor="middle">HEXIM1</text>
<text x="279.20" y="488.17" font-size="7" fill="#30303c" stroke="#30303c" stroke-width="0.03" text-anchor="middle" textLength="28.50" lengthAdjust="spacingAndGlyphs">Increased</text>
<line x1="236" y1="309" x2="236" y2="336" stroke="#8fa4cf" stroke-width="1"/>
<text x="214.75" y="318.00" font-size="6.9" fill="#c8d3ee" text-anchor="middle">Super</text>
<text x="214.75" y="325.60" font-size="6.9" fill="#c8d3ee" text-anchor="middle">enhancer</text>
<text x="214.75" y="333.20" font-size="6.9" fill="#c8d3ee" text-anchor="middle">(SE)</text>
<text x="278.90" y="317.60" font-size="6.9" fill="#c8d3ee" text-anchor="middle" textLength="79.00" lengthAdjust="spacingAndGlyphs">SE rank in FHD-286 treated</text>
<text x="278.90" y="325.40" font-size="6.9" fill="#c8d3ee" text-anchor="middle" textLength="72.00" lengthAdjust="spacingAndGlyphs">cells (based on H3K27Ac</text>
<text x="278.90" y="333.20" font-size="6.9" fill="#c8d3ee" text-anchor="middle" textLength="34.00" lengthAdjust="spacingAndGlyphs">occupancy)</text>
<rect x="193.5" y="309" width="128.3" height="181.7" fill="none" stroke="#333a48" stroke-width="1.4"/>
<text x="414.30" y="327.60" font-size="9.3" fill="#222" stroke="#222" stroke-width="0.12" text-anchor="middle" textLength="36.50" lengthAdjust="spacingAndGlyphs">MOLM13</text>
<text x="414.50" y="337.80" font-size="9.3" fill="#222" stroke="#222" stroke-width="0.12" text-anchor="middle" textLength="123.00" lengthAdjust="spacingAndGlyphs">100 nM FHD-286, 16 hrs/control</text>
<line x1="379.6" y1="346" x2="379.6" y2="443.6" stroke="#222" stroke-width="1"/>
<line x1="379.6" y1="443.6" x2="449" y2="443.6" stroke="#222" stroke-width="1"/>
<rect x="380.1" y="348.70" width="17.90" height="4.6" fill="#c3102f"/>
<line x1="377.0" y1="351.00" x2="379.6" y2="351.00" stroke="#222" stroke-width="0.7"/>
<text x="373.40" y="353.30" font-size="6.4" fill="#222" stroke="#222" stroke-width="0.1" text-anchor="end">BCL2A1</text>
<rect x="380.1" y="355.50" width="23.50" height="4.6" fill="#c3102f"/>
<line x1="377.0" y1="357.80" x2="379.6" y2="357.80" stroke="#222" stroke-width="0.7"/>
<text x="373.40" y="360.10" font-size="6.4" fill="#222" stroke="#222" stroke-width="0.1" text-anchor="end">CD14</text>
<rect x="380.1" y="362.30" width="14.90" height="4.6" fill="#c3102f"/>
<line x1="377.0" y1="364.60" x2="379.6" y2="364.60" stroke="#222" stroke-width="0.7"/>
<text x="373.40" y="366.90" font-size="6.4" fill="#222" stroke="#222" stroke-width="0.1" text-anchor="end">CD68</text>
<rect x="380.1" y="369.10" width="25.50" height="4.6" fill="#c3102f"/>
<line x1="377.0" y1="371.40" x2="379.6" y2="371.40" stroke="#222" stroke-width="0.7"/>
<text x="373.40" y="373.70" font-size="6.4" fill="#222" stroke="#222" stroke-width="0.1" text-anchor="end">CD86</text>
<rect x="380.1" y="375.90" width="29.90" height="4.6" fill="#c3102f"/>
<line x1="377.0" y1="378.20" x2="379.6" y2="378.20" stroke="#222" stroke-width="0.7"/>
<text x="373.40" y="380.50" font-size="6.4" fill="#222" stroke="#222" stroke-width="0.1" text-anchor="end">CDKN1B</text>
<rect x="380.1" y="382.70" width="27.50" height="4.6" fill="#c3102f"/>
<line x1="377.0" y1="385.00" x2="379.6" y2="385.00" stroke="#222" stroke-width="0.7"/>
<text x="373.40" y="387.30" font-size="6.4" fill="#222" stroke="#222" stroke-width="0.1" text-anchor="end">FBXO32</text>
<rect x="380.1" y="389.50" width="29.10" height="4.6" fill="#c3102f"/>
<line x1="377.0" y1="391.80" x2="379.6" y2="391.80" stroke="#222" stroke-width="0.7"/>
<text x="373.40" y="394.10" font-size="6.4" fill="#222" stroke="#222" stroke-width="0.1" text-anchor="end">GFI1</text>
<rect x="380.1" y="396.30" width="29.10" height="4.6" fill="#c3102f"/>
<line x1="377.0" y1="398.60" x2="379.6" y2="398.60" stroke="#222" stroke-width="0.7"/>
<text x="373.40" y="400.90" font-size="6.4" fill="#222" stroke="#222" stroke-width="0.1" text-anchor="end">HEXIM1</text>
<rect x="380.1" y="403.10" width="29.90" height="4.6" fill="#c3102f"/>
<line x1="377.0" y1="405.40" x2="379.6" y2="405.40" stroke="#222" stroke-width="0.7"/>
<text x="373.40" y="407.70" font-size="6.4" fill="#222" stroke="#222" stroke-width="0.1" text-anchor="end">HEXIM2</text>
<rect x="380.1" y="409.90" width="42.50" height="4.6" fill="#c3102f"/>
<line x1="377.0" y1="412.20" x2="379.6" y2="412.20" stroke="#222" stroke-width="0.7"/>
<text x="373.40" y="414.50" font-size="6.4" fill="#222" stroke="#222" stroke-width="0.1" text-anchor="end">HMOX1</text>
<rect x="380.1" y="416.70" width="19.50" height="4.6" fill="#c3102f"/>
<line x1="377.0" y1="419.00" x2="379.6" y2="419.00" stroke="#222" stroke-width="0.7"/>
<text x="373.40" y="421.30" font-size="6.4" fill="#222" stroke="#222" stroke-width="0.1" text-anchor="end">HSPA1A</text>
<rect x="380.1" y="423.50" width="20.90" height="4.6" fill="#c3102f"/>
<line x1="377.0" y1="425.80" x2="379.6" y2="425.80" stroke="#222" stroke-width="0.7"/>
<text x="373.40" y="428.10" font-size="6.4" fill="#222" stroke="#222" stroke-width="0.1" text-anchor="end">HSPA1B</text>
<rect x="380.1" y="430.30" width="39.50" height="4.6" fill="#c3102f"/>
<line x1="377.0" y1="432.60" x2="379.6" y2="432.60" stroke="#222" stroke-width="0.7"/>
<text x="373.40" y="434.90" font-size="6.4" fill="#222" stroke="#222" stroke-width="0.1" text-anchor="end">PDCD10</text>
<rect x="380.1" y="437.10" width="24.70" height="4.6" fill="#c3102f"/>
<line x1="377.0" y1="439.40" x2="379.6" y2="439.40" stroke="#222" stroke-width="0.7"/>
<text x="373.40" y="441.70" font-size="6.4" fill="#222" stroke="#222" stroke-width="0.1" text-anchor="end">PIDD1</text>
<line x1="379.6" y1="443.6" x2="379.6" y2="446" stroke="#222" stroke-width="0.7"/>
<text x="379.60" y="456.00" font-size="6.6" fill="#222" stroke="#222" stroke-width="0.1" text-anchor="middle">0.0</text>
<line x1="401.9" y1="443.6" x2="401.9" y2="446" stroke="#222" stroke-width="0.7"/>
<text x="401.90" y="456.00" font-size="6.6" fill="#222" stroke="#222" stroke-width="0.1" text-anchor="middle">0.5</text>
<line x1="424.2" y1="443.6" x2="424.2" y2="446" stroke="#222" stroke-width="0.7"/>
<text x="424.20" y="456.00" font-size="6.6" fill="#222" stroke="#222" stroke-width="0.1" text-anchor="middle">1.0</text>
<line x1="446.5" y1="443.6" x2="446.5" y2="446" stroke="#222" stroke-width="0.7"/>
<text x="446.50" y="456.00" font-size="6.6" fill="#222" stroke="#222" stroke-width="0.1" text-anchor="middle">1.5</text>
<text x="414.10" y="467.60" font-size="9.3" fill="#333" stroke="#333" stroke-width="0.22" text-anchor="middle" textLength="85.80" lengthAdjust="spacingAndGlyphs">log2 fold-change in H3K27Ac</text>
<text x="412.3" y="478.6" font-size="9.3" fill="#333" stroke="#333" stroke-width="0.22" text-anchor="middle" textLength="70" lengthAdjust="spacingAndGlyphs">ChIP-Seq peaks (<tspan font-style="italic">P</tspan> &lt; .05)</text>
</svg></body></html>
